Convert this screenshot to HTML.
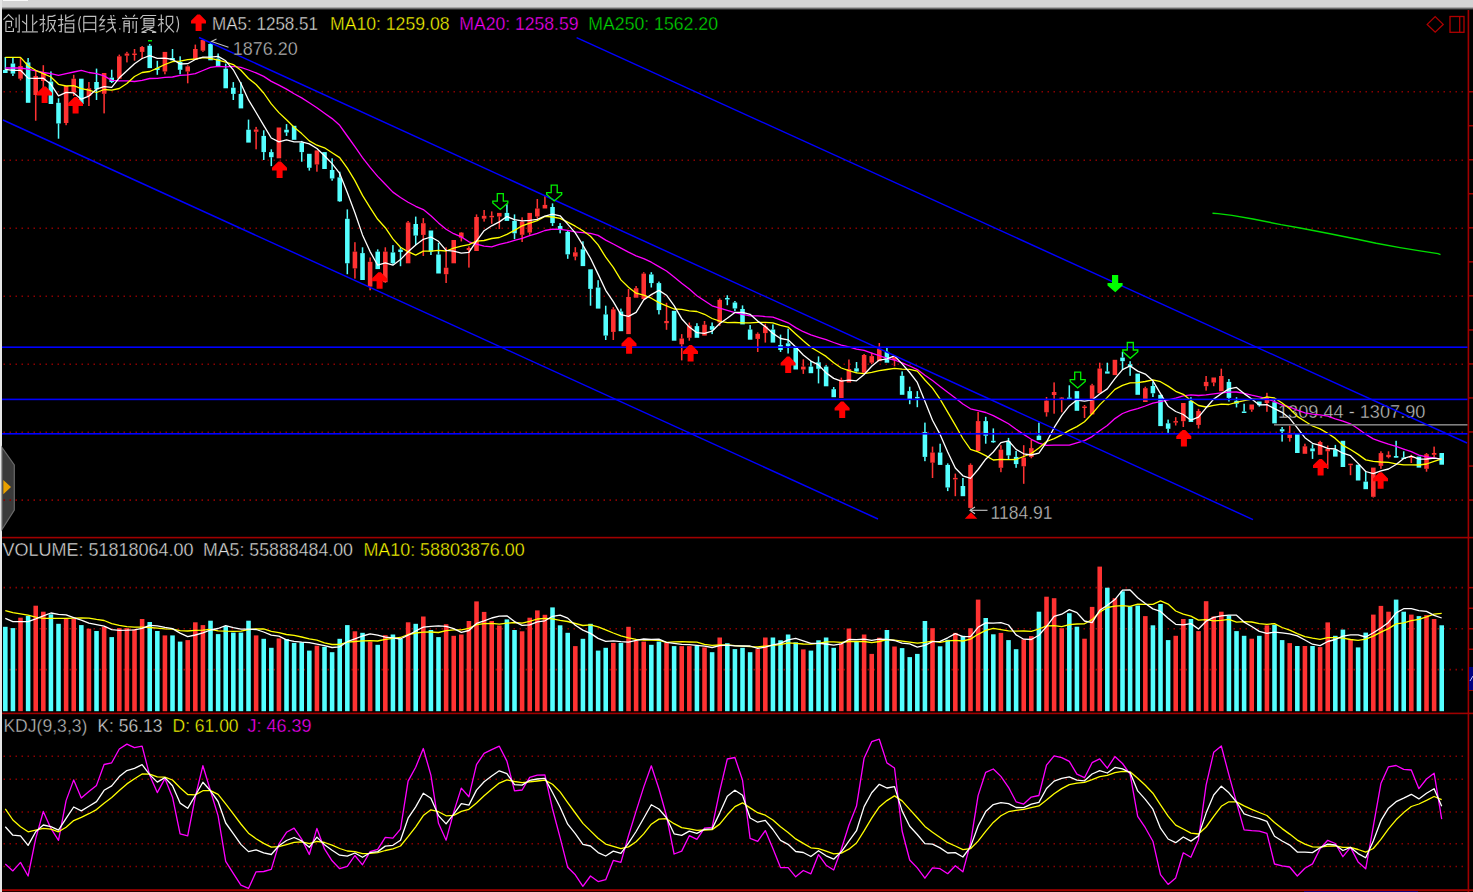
<!DOCTYPE html><html><head><meta charset="utf-8"><style>html,body{margin:0;padding:0;background:#000;width:1473px;height:892px;overflow:hidden}svg{display:block}text{font-family:"Liberation Sans",sans-serif}</style></head><body>
<svg width="1473" height="892" viewBox="0 0 1473 892">
<rect x="0" y="0" width="1473" height="892" fill="#000"/>
<rect x="0" y="0" width="1473" height="10" fill="#d4d4d4"/>
<rect x="0" y="7" width="1473" height="1" fill="#a8a8a8"/>
<rect x="0" y="8" width="1473" height="1" fill="#6a6a6a"/>
<rect x="0" y="9" width="1473" height="1" fill="#2a2a2a"/>
<rect x="3" y="0" width="25" height="1" fill="#fafafa"/>
<rect x="0" y="0" width="2" height="892" fill="#e6e6e6"/>
<polygon points="2,447.5 14.3,465 14.3,510 2,529.5" fill="#3a3a3a" stroke="#6a6a6a" stroke-width="1.2"/>
<polygon points="3.3,480 11,487 3.3,494.3" fill="#e8a000"/>
<line x1="3.50" y1="91.70" x2="1463" y2="91.70" stroke="#8a0000" stroke-width="1.55" stroke-dasharray="1.5 4.5"/>
<line x1="3.50" y1="160.20" x2="1463" y2="160.20" stroke="#8a0000" stroke-width="1.55" stroke-dasharray="1.5 4.5"/>
<line x1="3.50" y1="228.30" x2="1463" y2="228.30" stroke="#8a0000" stroke-width="1.55" stroke-dasharray="1.5 4.5"/>
<line x1="3.50" y1="296.20" x2="1463" y2="296.20" stroke="#8a0000" stroke-width="1.55" stroke-dasharray="1.5 4.5"/>
<line x1="3.50" y1="364.20" x2="1463" y2="364.20" stroke="#8a0000" stroke-width="1.55" stroke-dasharray="1.5 4.5"/>
<line x1="3.50" y1="432.20" x2="1463" y2="432.20" stroke="#8a0000" stroke-width="1.55" stroke-dasharray="1.5 4.5"/>
<line x1="3.50" y1="500.10" x2="1463" y2="500.10" stroke="#8a0000" stroke-width="1.55" stroke-dasharray="1.5 4.5"/>
<line x1="3.50" y1="587.60" x2="1463" y2="587.60" stroke="#8a0000" stroke-width="1.55" stroke-dasharray="1.5 4.5"/>
<line x1="3.50" y1="628.80" x2="1463" y2="628.80" stroke="#8a0000" stroke-width="1.55" stroke-dasharray="1.5 4.5"/>
<line x1="3.50" y1="669.60" x2="1463" y2="669.60" stroke="#8a0000" stroke-width="1.55" stroke-dasharray="1.5 4.5"/>
<line x1="3.50" y1="756.30" x2="1463" y2="756.30" stroke="#8a0000" stroke-width="1.55" stroke-dasharray="1.5 4.5"/>
<line x1="3.50" y1="779.20" x2="1463" y2="779.20" stroke="#8a0000" stroke-width="1.55" stroke-dasharray="1.5 4.5"/>
<line x1="3.50" y1="811.90" x2="1463" y2="811.90" stroke="#8a0000" stroke-width="1.55" stroke-dasharray="1.5 4.5"/>
<line x1="3.50" y1="843.80" x2="1463" y2="843.80" stroke="#8a0000" stroke-width="1.55" stroke-dasharray="1.5 4.5"/>
<line x1="3.50" y1="866.40" x2="1463" y2="866.40" stroke="#8a0000" stroke-width="1.55" stroke-dasharray="1.5 4.5"/>
<g fill="#a00000">
<rect x="1467.6" y="10" width="1.6" height="882"/>
<rect x="2" y="536.8" width="1471" height="1.6"/>
<rect x="2" y="712.6" width="1471" height="1.6"/>
<rect x="2" y="889.2" width="1471" height="2"/>
<rect x="1304" y="891" width="114" height="1" fill="#10007a"/>
<rect x="1469" y="91.0" width="4" height="1.5"/>
<rect x="1469" y="125.0" width="4" height="1.5"/>
<rect x="1469" y="159.0" width="4" height="1.5"/>
<rect x="1469" y="193.0" width="4" height="1.5"/>
<rect x="1469" y="227.1" width="4" height="1.5"/>
<rect x="1469" y="261.1" width="4" height="1.5"/>
<rect x="1469" y="295.1" width="4" height="1.5"/>
<rect x="1469" y="329.2" width="4" height="1.5"/>
<rect x="1469" y="363.2" width="4" height="1.5"/>
<rect x="1469" y="397.2" width="4" height="1.5"/>
<rect x="1469" y="431.2" width="4" height="1.5"/>
<rect x="1469" y="465.3" width="4" height="1.5"/>
<rect x="1469" y="499.3" width="4" height="1.5"/>
<rect x="1469" y="586.9" width="4" height="1.5"/>
<rect x="1469" y="607.5" width="4" height="1.5"/>
<rect x="1469" y="628.0" width="4" height="1.5"/>
<rect x="1469" y="648.5" width="4" height="1.5"/>
<rect x="1469" y="668.9" width="4" height="1.5"/>
<rect x="1469" y="689.4" width="4" height="1.5"/>
</g>
<g>
<rect x="4.56" y="57.0" width="1.52" height="13.0" fill="#54ffff"/>
<rect x="3.04" y="70.0" width="4.56" height="3.0" fill="#54ffff"/>
<rect x="12.16" y="58.0" width="1.52" height="5.5" fill="#54ffff"/>
<rect x="12.16" y="73.6" width="1.52" height="2.4" fill="#54ffff"/>
<rect x="10.64" y="63.5" width="4.56" height="10.1" fill="#54ffff"/>
<rect x="19.76" y="58.0" width="1.52" height="8.0" fill="#ff3232"/>
<rect x="19.76" y="78.7" width="1.52" height="1.7" fill="#ff3232"/>
<rect x="18.24" y="66.0" width="4.56" height="12.7" fill="#ff3232"/>
<rect x="27.36" y="58.0" width="1.52" height="4.4" fill="#54ffff"/>
<rect x="25.84" y="62.4" width="4.56" height="40.4" fill="#54ffff"/>
<rect x="34.96" y="70.3" width="1.52" height="5.7" fill="#ff3232"/>
<rect x="34.96" y="95.0" width="1.52" height="25.7" fill="#ff3232"/>
<rect x="33.44" y="76.0" width="4.56" height="19.0" fill="#ff3232"/>
<rect x="42.56" y="65.2" width="1.52" height="7.3" fill="#ff3232"/>
<rect x="42.56" y="81.0" width="1.52" height="7.0" fill="#ff3232"/>
<rect x="41.04" y="72.5" width="4.56" height="8.5" fill="#ff3232"/>
<rect x="50.16" y="71.4" width="1.52" height="10.1" fill="#54ffff"/>
<rect x="48.64" y="81.5" width="4.56" height="22.5" fill="#54ffff"/>
<rect x="57.76" y="98.3" width="1.52" height="4.5" fill="#54ffff"/>
<rect x="57.76" y="123.5" width="1.52" height="15.2" fill="#54ffff"/>
<rect x="56.24" y="102.8" width="4.56" height="20.7" fill="#54ffff"/>
<rect x="65.36" y="123.0" width="1.52" height="2.2" fill="#ff3232"/>
<rect x="63.84" y="86.0" width="4.56" height="37.0" fill="#ff3232"/>
<rect x="72.96" y="74.8" width="1.52" height="3.9" fill="#ff3232"/>
<rect x="72.96" y="92.7" width="1.52" height="3.3" fill="#ff3232"/>
<rect x="71.44" y="78.7" width="4.56" height="14.0" fill="#ff3232"/>
<rect x="79.04" y="78.7" width="4.56" height="25.3" fill="#54ffff"/>
<rect x="88.16" y="82.0" width="1.52" height="6.2" fill="#ff3232"/>
<rect x="88.16" y="96.0" width="1.52" height="10.0" fill="#ff3232"/>
<rect x="86.64" y="88.2" width="4.56" height="7.8" fill="#ff3232"/>
<rect x="95.76" y="68.6" width="1.52" height="13.4" fill="#54ffff"/>
<rect x="95.76" y="89.3" width="1.52" height="10.7" fill="#54ffff"/>
<rect x="94.24" y="82.0" width="4.56" height="7.3" fill="#54ffff"/>
<rect x="103.36" y="93.8" width="1.52" height="19.6" fill="#ff3232"/>
<rect x="101.84" y="73.0" width="4.56" height="20.8" fill="#ff3232"/>
<rect x="110.96" y="69.7" width="1.52" height="7.9" fill="#54ffff"/>
<rect x="110.96" y="82.0" width="1.52" height="1.0" fill="#54ffff"/>
<rect x="109.44" y="77.6" width="4.56" height="4.4" fill="#54ffff"/>
<rect x="118.56" y="54.6" width="1.52" height="1.7" fill="#ff3232"/>
<rect x="117.04" y="56.3" width="4.56" height="22.4" fill="#ff3232"/>
<rect x="126.16" y="51.8" width="1.52" height="1.7" fill="#ff3232"/>
<rect x="126.16" y="55.7" width="1.52" height="6.7" fill="#ff3232"/>
<rect x="124.64" y="53.5" width="4.56" height="2.2" fill="#ff3232"/>
<rect x="133.76" y="49.0" width="1.52" height="4.5" fill="#ff3232"/>
<rect x="133.76" y="55.0" width="1.52" height="5.7" fill="#ff3232"/>
<rect x="132.24" y="53.5" width="4.56" height="1.5" fill="#ff3232"/>
<rect x="141.36" y="46.0" width="1.52" height="1.0" fill="#ff3232"/>
<rect x="141.36" y="51.9" width="1.52" height="7.1" fill="#ff3232"/>
<rect x="139.84" y="47.0" width="4.56" height="4.9" fill="#ff3232"/>
<rect x="148.96" y="44.0" width="1.52" height="1.7" fill="#54ffff"/>
<rect x="147.44" y="45.7" width="4.56" height="22.4" fill="#54ffff"/>
<rect x="156.56" y="60.8" width="1.52" height="7.2" fill="#54ffff"/>
<rect x="156.56" y="70.0" width="1.52" height="4.8" fill="#54ffff"/>
<rect x="155.04" y="68.0" width="4.56" height="2.0" fill="#54ffff"/>
<rect x="164.16" y="71.5" width="1.52" height="2.8" fill="#ff3232"/>
<rect x="162.64" y="51.9" width="4.56" height="19.6" fill="#ff3232"/>
<rect x="171.76" y="49.0" width="1.52" height="9.0" fill="#54ffff"/>
<rect x="170.24" y="58.0" width="4.56" height="2.3" fill="#54ffff"/>
<rect x="179.36" y="56.3" width="1.52" height="5.7" fill="#54ffff"/>
<rect x="179.36" y="69.8" width="1.52" height="4.5" fill="#54ffff"/>
<rect x="177.84" y="62.0" width="4.56" height="7.8" fill="#54ffff"/>
<rect x="186.96" y="65.3" width="1.52" height="1.1" fill="#ff3232"/>
<rect x="186.96" y="71.5" width="1.52" height="11.8" fill="#ff3232"/>
<rect x="185.44" y="66.4" width="4.56" height="5.1" fill="#ff3232"/>
<rect x="194.56" y="44.6" width="1.52" height="4.4" fill="#ff3232"/>
<rect x="193.04" y="49.0" width="4.56" height="10.7" fill="#ff3232"/>
<rect x="202.16" y="50.7" width="1.52" height="1.2" fill="#ff3232"/>
<rect x="200.64" y="40.0" width="4.56" height="10.7" fill="#ff3232"/>
<rect x="209.76" y="42.0" width="1.52" height="2.0" fill="#54ffff"/>
<rect x="208.24" y="44.0" width="4.56" height="16.3" fill="#54ffff"/>
<rect x="217.36" y="53.5" width="1.52" height="5.1" fill="#54ffff"/>
<rect x="215.84" y="58.6" width="4.56" height="7.8" fill="#54ffff"/>
<rect x="224.96" y="63.6" width="1.52" height="5.1" fill="#54ffff"/>
<rect x="223.44" y="68.7" width="4.56" height="19.6" fill="#54ffff"/>
<rect x="232.56" y="82.1" width="1.52" height="5.6" fill="#54ffff"/>
<rect x="232.56" y="93.9" width="1.52" height="6.1" fill="#54ffff"/>
<rect x="231.04" y="87.7" width="4.56" height="6.2" fill="#54ffff"/>
<rect x="240.16" y="82.1" width="1.52" height="11.8" fill="#54ffff"/>
<rect x="238.64" y="93.9" width="4.56" height="14.5" fill="#54ffff"/>
<rect x="247.76" y="119.6" width="1.52" height="10.1" fill="#54ffff"/>
<rect x="246.24" y="129.7" width="4.56" height="12.9" fill="#54ffff"/>
<rect x="255.36" y="126.9" width="1.52" height="2.6" fill="#ff3232"/>
<rect x="255.36" y="131.8" width="1.52" height="17.5" fill="#ff3232"/>
<rect x="253.84" y="129.5" width="4.56" height="2.3" fill="#ff3232"/>
<rect x="262.96" y="130.3" width="1.52" height="5.6" fill="#54ffff"/>
<rect x="262.96" y="152.1" width="1.52" height="7.9" fill="#54ffff"/>
<rect x="261.44" y="135.9" width="4.56" height="16.2" fill="#54ffff"/>
<rect x="270.56" y="149.3" width="1.52" height="2.8" fill="#54ffff"/>
<rect x="270.56" y="157.2" width="1.52" height="8.9" fill="#54ffff"/>
<rect x="269.04" y="152.1" width="4.56" height="5.1" fill="#54ffff"/>
<rect x="276.64" y="127.5" width="4.56" height="30.8" fill="#ff3232"/>
<rect x="285.76" y="124.1" width="1.52" height="5.6" fill="#54ffff"/>
<rect x="285.76" y="132.5" width="1.52" height="3.4" fill="#54ffff"/>
<rect x="284.24" y="129.7" width="4.56" height="2.8" fill="#54ffff"/>
<rect x="291.84" y="125.8" width="4.56" height="14.0" fill="#54ffff"/>
<rect x="300.96" y="140.9" width="1.52" height="1.7" fill="#54ffff"/>
<rect x="300.96" y="152.1" width="1.52" height="9.6" fill="#54ffff"/>
<rect x="299.44" y="142.6" width="4.56" height="9.5" fill="#54ffff"/>
<rect x="308.56" y="167.8" width="1.52" height="2.8" fill="#54ffff"/>
<rect x="307.04" y="153.8" width="4.56" height="14.0" fill="#54ffff"/>
<rect x="316.16" y="164.5" width="1.52" height="7.2" fill="#ff3232"/>
<rect x="314.64" y="150.4" width="4.56" height="14.1" fill="#ff3232"/>
<rect x="322.24" y="152.1" width="4.56" height="16.9" fill="#54ffff"/>
<rect x="331.36" y="158.3" width="1.52" height="11.7" fill="#54ffff"/>
<rect x="331.36" y="178.5" width="1.52" height="2.2" fill="#54ffff"/>
<rect x="329.84" y="170.0" width="4.56" height="8.5" fill="#54ffff"/>
<rect x="338.96" y="171.7" width="1.52" height="5.7" fill="#54ffff"/>
<rect x="338.96" y="201.3" width="1.52" height="0.7" fill="#54ffff"/>
<rect x="337.44" y="177.4" width="4.56" height="23.9" fill="#54ffff"/>
<rect x="346.56" y="209.4" width="1.52" height="9.4" fill="#54ffff"/>
<rect x="346.56" y="263.3" width="1.52" height="10.9" fill="#54ffff"/>
<rect x="345.04" y="218.8" width="4.56" height="44.5" fill="#54ffff"/>
<rect x="354.16" y="242.2" width="1.52" height="9.4" fill="#ff3232"/>
<rect x="354.16" y="268.4" width="1.52" height="10.2" fill="#ff3232"/>
<rect x="352.64" y="251.6" width="4.56" height="16.8" fill="#ff3232"/>
<rect x="361.76" y="247.3" width="1.52" height="5.8" fill="#54ffff"/>
<rect x="360.24" y="253.1" width="4.56" height="26.9" fill="#54ffff"/>
<rect x="369.36" y="257.5" width="1.52" height="4.3" fill="#ff3232"/>
<rect x="369.36" y="286.6" width="1.52" height="3.7" fill="#ff3232"/>
<rect x="367.84" y="261.8" width="4.56" height="24.8" fill="#ff3232"/>
<rect x="376.96" y="249.4" width="1.52" height="2.2" fill="#54ffff"/>
<rect x="375.44" y="251.6" width="4.56" height="17.5" fill="#54ffff"/>
<rect x="384.56" y="247.3" width="1.52" height="4.3" fill="#ff3232"/>
<rect x="384.56" y="282.2" width="1.52" height="0.8" fill="#ff3232"/>
<rect x="383.04" y="251.6" width="4.56" height="30.6" fill="#ff3232"/>
<rect x="392.16" y="245.1" width="1.52" height="7.3" fill="#54ffff"/>
<rect x="392.16" y="263.3" width="1.52" height="1.5" fill="#54ffff"/>
<rect x="390.64" y="252.4" width="4.56" height="10.9" fill="#54ffff"/>
<rect x="399.76" y="247.3" width="1.52" height="2.2" fill="#54ffff"/>
<rect x="399.76" y="252.0" width="1.52" height="14.2" fill="#54ffff"/>
<rect x="398.24" y="249.5" width="4.56" height="2.5" fill="#54ffff"/>
<rect x="407.36" y="221.0" width="1.52" height="1.5" fill="#ff3232"/>
<rect x="405.84" y="222.5" width="4.56" height="40.8" fill="#ff3232"/>
<rect x="414.96" y="216.6" width="1.52" height="7.4" fill="#54ffff"/>
<rect x="414.96" y="235.6" width="1.52" height="9.5" fill="#54ffff"/>
<rect x="413.44" y="224.0" width="4.56" height="11.6" fill="#54ffff"/>
<rect x="422.56" y="218.1" width="1.52" height="5.1" fill="#ff3232"/>
<rect x="422.56" y="234.9" width="1.52" height="21.1" fill="#ff3232"/>
<rect x="421.04" y="223.2" width="4.56" height="11.7" fill="#ff3232"/>
<rect x="430.16" y="251.6" width="1.52" height="3.4" fill="#54ffff"/>
<rect x="428.64" y="230.5" width="4.56" height="21.1" fill="#54ffff"/>
<rect x="437.76" y="242.9" width="1.52" height="11.6" fill="#54ffff"/>
<rect x="436.24" y="254.5" width="4.56" height="19.0" fill="#54ffff"/>
<rect x="445.36" y="247.3" width="1.52" height="20.4" fill="#ff3232"/>
<rect x="445.36" y="274.2" width="1.52" height="8.8" fill="#ff3232"/>
<rect x="443.84" y="267.7" width="4.56" height="6.5" fill="#ff3232"/>
<rect x="451.44" y="240.0" width="4.56" height="23.3" fill="#ff3232"/>
<rect x="460.56" y="232.0" width="1.52" height="0.6" fill="#ff3232"/>
<rect x="460.56" y="237.7" width="1.52" height="3.7" fill="#ff3232"/>
<rect x="459.04" y="232.6" width="4.56" height="5.1" fill="#ff3232"/>
<rect x="468.16" y="246.4" width="1.52" height="1.6" fill="#ff3232"/>
<rect x="468.16" y="250.0" width="1.52" height="17.6" fill="#ff3232"/>
<rect x="466.64" y="248.0" width="4.56" height="2.0" fill="#ff3232"/>
<rect x="475.76" y="214.4" width="1.52" height="2.6" fill="#ff3232"/>
<rect x="474.24" y="217.0" width="4.56" height="34.0" fill="#ff3232"/>
<rect x="483.36" y="210.0" width="1.52" height="5.8" fill="#ff3232"/>
<rect x="483.36" y="218.7" width="1.52" height="2.9" fill="#ff3232"/>
<rect x="481.84" y="215.8" width="4.56" height="2.9" fill="#ff3232"/>
<rect x="490.96" y="211.4" width="1.52" height="4.4" fill="#ff3232"/>
<rect x="490.96" y="217.3" width="1.52" height="6.5" fill="#ff3232"/>
<rect x="489.44" y="215.8" width="4.56" height="1.5" fill="#ff3232"/>
<rect x="498.56" y="216.5" width="1.52" height="12.5" fill="#ff3232"/>
<rect x="497.04" y="212.9" width="4.56" height="3.6" fill="#ff3232"/>
<rect x="506.16" y="204.2" width="1.52" height="8.7" fill="#54ffff"/>
<rect x="504.64" y="212.9" width="4.56" height="8.0" fill="#54ffff"/>
<rect x="513.76" y="214.4" width="1.52" height="6.5" fill="#54ffff"/>
<rect x="513.76" y="233.3" width="1.52" height="5.8" fill="#54ffff"/>
<rect x="512.24" y="220.9" width="4.56" height="12.4" fill="#54ffff"/>
<rect x="521.36" y="217.3" width="1.52" height="4.3" fill="#ff3232"/>
<rect x="521.36" y="234.8" width="1.52" height="7.2" fill="#ff3232"/>
<rect x="519.84" y="221.6" width="4.56" height="13.2" fill="#ff3232"/>
<rect x="528.96" y="232.6" width="1.52" height="2.2" fill="#ff3232"/>
<rect x="527.44" y="212.9" width="4.56" height="19.7" fill="#ff3232"/>
<rect x="536.56" y="199.0" width="1.52" height="9.5" fill="#ff3232"/>
<rect x="536.56" y="216.5" width="1.52" height="2.2" fill="#ff3232"/>
<rect x="535.04" y="208.5" width="4.56" height="8.0" fill="#ff3232"/>
<rect x="544.16" y="196.1" width="1.52" height="8.8" fill="#ff3232"/>
<rect x="542.64" y="204.9" width="4.56" height="3.6" fill="#ff3232"/>
<rect x="551.76" y="203.4" width="1.52" height="3.6" fill="#54ffff"/>
<rect x="551.76" y="223.1" width="1.52" height="2.9" fill="#54ffff"/>
<rect x="550.24" y="207.0" width="4.56" height="16.1" fill="#54ffff"/>
<rect x="559.36" y="223.1" width="1.52" height="2.9" fill="#54ffff"/>
<rect x="559.36" y="229.7" width="1.52" height="3.6" fill="#54ffff"/>
<rect x="557.84" y="226.0" width="4.56" height="3.7" fill="#54ffff"/>
<rect x="566.96" y="230.4" width="1.52" height="1.5" fill="#54ffff"/>
<rect x="566.96" y="254.4" width="1.52" height="4.4" fill="#54ffff"/>
<rect x="565.44" y="231.9" width="4.56" height="22.5" fill="#54ffff"/>
<rect x="574.56" y="247.2" width="1.52" height="5.1" fill="#ff3232"/>
<rect x="574.56" y="256.6" width="1.52" height="3.7" fill="#ff3232"/>
<rect x="573.04" y="252.3" width="4.56" height="4.3" fill="#ff3232"/>
<rect x="582.16" y="241.3" width="1.52" height="8.0" fill="#54ffff"/>
<rect x="580.64" y="249.3" width="4.56" height="16.8" fill="#54ffff"/>
<rect x="589.76" y="288.9" width="1.52" height="16.8" fill="#54ffff"/>
<rect x="588.24" y="269.3" width="4.56" height="19.6" fill="#54ffff"/>
<rect x="597.36" y="280.2" width="1.52" height="7.3" fill="#54ffff"/>
<rect x="595.84" y="287.5" width="4.56" height="21.1" fill="#54ffff"/>
<rect x="604.96" y="305.7" width="1.52" height="8.7" fill="#54ffff"/>
<rect x="604.96" y="335.6" width="1.52" height="4.4" fill="#54ffff"/>
<rect x="603.44" y="314.4" width="4.56" height="21.2" fill="#54ffff"/>
<rect x="612.56" y="307.2" width="1.52" height="2.1" fill="#ff3232"/>
<rect x="612.56" y="331.9" width="1.52" height="8.1" fill="#ff3232"/>
<rect x="611.04" y="309.3" width="4.56" height="22.6" fill="#ff3232"/>
<rect x="620.16" y="308.6" width="1.52" height="2.9" fill="#54ffff"/>
<rect x="618.64" y="311.5" width="4.56" height="19.7" fill="#54ffff"/>
<rect x="627.76" y="288.9" width="1.52" height="8.1" fill="#ff3232"/>
<rect x="626.24" y="297.0" width="4.56" height="37.1" fill="#ff3232"/>
<rect x="635.36" y="286.0" width="1.52" height="2.2" fill="#ff3232"/>
<rect x="633.84" y="288.2" width="4.56" height="9.5" fill="#ff3232"/>
<rect x="642.96" y="272.2" width="1.52" height="1.4" fill="#ff3232"/>
<rect x="641.44" y="273.6" width="4.56" height="25.5" fill="#ff3232"/>
<rect x="650.56" y="272.2" width="1.52" height="2.2" fill="#54ffff"/>
<rect x="650.56" y="283.1" width="1.52" height="4.4" fill="#54ffff"/>
<rect x="649.04" y="274.4" width="4.56" height="8.7" fill="#54ffff"/>
<rect x="658.16" y="281.6" width="1.52" height="1.5" fill="#54ffff"/>
<rect x="658.16" y="310.1" width="1.52" height="4.3" fill="#54ffff"/>
<rect x="656.64" y="283.1" width="4.56" height="27.0" fill="#54ffff"/>
<rect x="665.76" y="302.8" width="1.52" height="18.2" fill="#ff3232"/>
<rect x="665.76" y="323.2" width="1.52" height="6.6" fill="#ff3232"/>
<rect x="664.24" y="321.0" width="4.56" height="2.2" fill="#ff3232"/>
<rect x="671.84" y="310.8" width="4.56" height="29.9" fill="#54ffff"/>
<rect x="680.96" y="334.1" width="1.52" height="4.4" fill="#ff3232"/>
<rect x="680.96" y="344.3" width="1.52" height="16.1" fill="#ff3232"/>
<rect x="679.44" y="338.5" width="4.56" height="5.8" fill="#ff3232"/>
<rect x="688.56" y="322.5" width="1.52" height="2.9" fill="#ff3232"/>
<rect x="688.56" y="337.8" width="1.52" height="2.9" fill="#ff3232"/>
<rect x="687.04" y="325.4" width="4.56" height="12.4" fill="#ff3232"/>
<rect x="696.16" y="323.2" width="1.52" height="2.9" fill="#54ffff"/>
<rect x="694.64" y="326.1" width="4.56" height="11.7" fill="#54ffff"/>
<rect x="703.76" y="321.0" width="1.52" height="3.7" fill="#ff3232"/>
<rect x="702.24" y="324.7" width="4.56" height="10.9" fill="#ff3232"/>
<rect x="711.36" y="322.5" width="1.52" height="3.6" fill="#54ffff"/>
<rect x="711.36" y="329.8" width="1.52" height="4.3" fill="#54ffff"/>
<rect x="709.84" y="326.1" width="4.56" height="3.7" fill="#54ffff"/>
<rect x="718.96" y="298.4" width="1.52" height="1.5" fill="#ff3232"/>
<rect x="718.96" y="322.5" width="1.52" height="3.3" fill="#ff3232"/>
<rect x="717.44" y="299.9" width="4.56" height="22.6" fill="#ff3232"/>
<rect x="726.56" y="295.3" width="1.52" height="2.7" fill="#54ffff"/>
<rect x="726.56" y="299.5" width="1.52" height="5.7" fill="#54ffff"/>
<rect x="725.04" y="298.0" width="4.56" height="1.5" fill="#54ffff"/>
<rect x="734.16" y="301.0" width="1.52" height="1.5" fill="#54ffff"/>
<rect x="734.16" y="308.5" width="1.52" height="2.7" fill="#54ffff"/>
<rect x="732.64" y="302.5" width="4.56" height="6.0" fill="#54ffff"/>
<rect x="741.76" y="305.4" width="1.52" height="3.6" fill="#54ffff"/>
<rect x="740.24" y="309.0" width="4.56" height="15.4" fill="#54ffff"/>
<rect x="749.36" y="325.0" width="1.52" height="4.5" fill="#54ffff"/>
<rect x="747.84" y="329.5" width="4.56" height="10.2" fill="#54ffff"/>
<rect x="756.96" y="332.4" width="1.52" height="1.4" fill="#ff3232"/>
<rect x="756.96" y="338.9" width="1.52" height="13.1" fill="#ff3232"/>
<rect x="755.44" y="333.8" width="4.56" height="5.1" fill="#ff3232"/>
<rect x="764.56" y="323.6" width="1.52" height="2.9" fill="#ff3232"/>
<rect x="764.56" y="333.1" width="1.52" height="9.5" fill="#ff3232"/>
<rect x="763.04" y="326.5" width="4.56" height="6.6" fill="#ff3232"/>
<rect x="772.16" y="324.4" width="1.52" height="5.1" fill="#54ffff"/>
<rect x="770.64" y="329.5" width="4.56" height="13.1" fill="#54ffff"/>
<rect x="779.76" y="334.6" width="1.52" height="10.4" fill="#54ffff"/>
<rect x="779.76" y="350.0" width="1.52" height="2.0" fill="#54ffff"/>
<rect x="778.24" y="345.0" width="4.56" height="5.0" fill="#54ffff"/>
<rect x="787.36" y="328.7" width="1.52" height="14.6" fill="#54ffff"/>
<rect x="787.36" y="346.2" width="1.52" height="7.3" fill="#54ffff"/>
<rect x="785.84" y="343.3" width="4.56" height="2.9" fill="#54ffff"/>
<rect x="794.96" y="346.2" width="1.52" height="1.5" fill="#54ffff"/>
<rect x="793.44" y="347.7" width="4.56" height="21.8" fill="#54ffff"/>
<rect x="802.56" y="359.3" width="1.52" height="7.3" fill="#ff3232"/>
<rect x="802.56" y="369.5" width="1.52" height="4.4" fill="#ff3232"/>
<rect x="801.04" y="366.6" width="4.56" height="2.9" fill="#ff3232"/>
<rect x="810.16" y="360.8" width="1.52" height="5.8" fill="#54ffff"/>
<rect x="808.64" y="366.6" width="4.56" height="6.6" fill="#54ffff"/>
<rect x="817.76" y="356.4" width="1.52" height="5.9" fill="#54ffff"/>
<rect x="817.76" y="368.8" width="1.52" height="14.6" fill="#54ffff"/>
<rect x="816.24" y="362.3" width="4.56" height="6.5" fill="#54ffff"/>
<rect x="825.36" y="365.2" width="1.52" height="1.4" fill="#54ffff"/>
<rect x="823.84" y="366.6" width="4.56" height="19.7" fill="#54ffff"/>
<rect x="832.96" y="387.0" width="1.52" height="2.2" fill="#54ffff"/>
<rect x="831.44" y="389.2" width="4.56" height="8.0" fill="#54ffff"/>
<rect x="840.56" y="377.6" width="1.52" height="2.2" fill="#ff3232"/>
<rect x="839.04" y="379.8" width="4.56" height="18.2" fill="#ff3232"/>
<rect x="848.16" y="359.5" width="1.52" height="9.5" fill="#ff3232"/>
<rect x="846.64" y="369.0" width="4.56" height="13.5" fill="#ff3232"/>
<rect x="855.76" y="362.0" width="1.52" height="6.3" fill="#54ffff"/>
<rect x="855.76" y="371.5" width="1.52" height="1.4" fill="#54ffff"/>
<rect x="854.24" y="368.3" width="4.56" height="3.2" fill="#54ffff"/>
<rect x="863.36" y="354.0" width="1.52" height="1.0" fill="#ff3232"/>
<rect x="863.36" y="372.7" width="1.52" height="0.2" fill="#ff3232"/>
<rect x="861.84" y="355.0" width="4.56" height="17.7" fill="#ff3232"/>
<rect x="870.96" y="352.5" width="1.52" height="3.6" fill="#ff3232"/>
<rect x="870.96" y="362.7" width="1.52" height="1.5" fill="#ff3232"/>
<rect x="869.44" y="356.1" width="4.56" height="6.6" fill="#ff3232"/>
<rect x="878.56" y="343.0" width="1.52" height="5.8" fill="#ff3232"/>
<rect x="877.04" y="348.8" width="4.56" height="12.4" fill="#ff3232"/>
<rect x="886.16" y="347.4" width="1.52" height="4.4" fill="#54ffff"/>
<rect x="884.64" y="351.8" width="4.56" height="10.9" fill="#54ffff"/>
<rect x="893.76" y="356.1" width="1.52" height="0.8" fill="#ff3232"/>
<rect x="893.76" y="359.8" width="1.52" height="6.5" fill="#ff3232"/>
<rect x="892.24" y="356.9" width="4.56" height="2.9" fill="#ff3232"/>
<rect x="901.36" y="371.4" width="1.52" height="4.4" fill="#54ffff"/>
<rect x="899.84" y="375.8" width="4.56" height="19.0" fill="#54ffff"/>
<rect x="908.96" y="386.7" width="1.52" height="4.4" fill="#54ffff"/>
<rect x="908.96" y="399.1" width="1.52" height="5.1" fill="#54ffff"/>
<rect x="907.44" y="391.1" width="4.56" height="8.0" fill="#54ffff"/>
<rect x="916.56" y="391.1" width="1.52" height="5.8" fill="#54ffff"/>
<rect x="916.56" y="398.5" width="1.52" height="8.7" fill="#54ffff"/>
<rect x="915.04" y="396.9" width="4.56" height="1.5" fill="#54ffff"/>
<rect x="924.16" y="422.6" width="1.52" height="9.5" fill="#54ffff"/>
<rect x="924.16" y="456.9" width="1.52" height="4.3" fill="#54ffff"/>
<rect x="922.64" y="432.1" width="4.56" height="24.8" fill="#54ffff"/>
<rect x="931.76" y="446.6" width="1.52" height="5.9" fill="#ff3232"/>
<rect x="931.76" y="462.7" width="1.52" height="15.3" fill="#ff3232"/>
<rect x="930.24" y="452.5" width="4.56" height="10.2" fill="#ff3232"/>
<rect x="939.36" y="443.7" width="1.52" height="8.8" fill="#54ffff"/>
<rect x="937.84" y="452.5" width="4.56" height="12.4" fill="#54ffff"/>
<rect x="946.96" y="463.4" width="1.52" height="1.5" fill="#54ffff"/>
<rect x="946.96" y="487.5" width="1.52" height="3.6" fill="#54ffff"/>
<rect x="945.44" y="464.9" width="4.56" height="22.6" fill="#54ffff"/>
<rect x="954.56" y="473.6" width="1.52" height="4.3" fill="#ff3232"/>
<rect x="954.56" y="479.5" width="1.52" height="16.7" fill="#ff3232"/>
<rect x="953.04" y="477.9" width="4.56" height="1.5" fill="#ff3232"/>
<rect x="962.16" y="478.0" width="1.52" height="8.0" fill="#54ffff"/>
<rect x="960.64" y="486.0" width="4.56" height="10.2" fill="#54ffff"/>
<rect x="969.76" y="463.4" width="1.52" height="1.5" fill="#ff3232"/>
<rect x="969.76" y="507.9" width="1.52" height="0.7" fill="#ff3232"/>
<rect x="968.24" y="464.9" width="4.56" height="43.0" fill="#ff3232"/>
<rect x="977.36" y="412.0" width="1.52" height="9.1" fill="#ff3232"/>
<rect x="975.84" y="421.1" width="4.56" height="29.9" fill="#ff3232"/>
<rect x="984.96" y="416.8" width="1.52" height="4.3" fill="#54ffff"/>
<rect x="984.96" y="435.7" width="1.52" height="8.0" fill="#54ffff"/>
<rect x="983.44" y="421.1" width="4.56" height="14.6" fill="#54ffff"/>
<rect x="992.56" y="428.4" width="1.52" height="12.4" fill="#54ffff"/>
<rect x="992.56" y="442.3" width="1.52" height="0.7" fill="#54ffff"/>
<rect x="991.04" y="440.8" width="4.56" height="1.5" fill="#54ffff"/>
<rect x="1000.16" y="445.2" width="1.52" height="4.4" fill="#ff3232"/>
<rect x="1000.16" y="467.8" width="1.52" height="4.4" fill="#ff3232"/>
<rect x="998.64" y="449.6" width="4.56" height="18.2" fill="#ff3232"/>
<rect x="1007.76" y="437.9" width="1.52" height="3.6" fill="#54ffff"/>
<rect x="1007.76" y="455.4" width="1.52" height="4.4" fill="#54ffff"/>
<rect x="1006.24" y="441.5" width="4.56" height="13.9" fill="#54ffff"/>
<rect x="1015.36" y="451.0" width="1.52" height="5.9" fill="#54ffff"/>
<rect x="1015.36" y="464.1" width="1.52" height="3.7" fill="#54ffff"/>
<rect x="1013.84" y="456.9" width="4.56" height="7.2" fill="#54ffff"/>
<rect x="1022.96" y="445.2" width="1.52" height="12.4" fill="#ff3232"/>
<rect x="1022.96" y="466.3" width="1.52" height="17.5" fill="#ff3232"/>
<rect x="1021.44" y="457.6" width="4.56" height="8.7" fill="#ff3232"/>
<rect x="1030.56" y="440.0" width="1.52" height="8.1" fill="#ff3232"/>
<rect x="1030.56" y="456.9" width="1.52" height="1.4" fill="#ff3232"/>
<rect x="1029.04" y="448.1" width="4.56" height="8.8" fill="#ff3232"/>
<rect x="1038.16" y="422.6" width="1.52" height="13.1" fill="#54ffff"/>
<rect x="1036.64" y="435.7" width="4.56" height="4.4" fill="#54ffff"/>
<rect x="1045.76" y="397.0" width="1.52" height="3.6" fill="#ff3232"/>
<rect x="1045.76" y="412.3" width="1.52" height="4.3" fill="#ff3232"/>
<rect x="1044.24" y="400.6" width="4.56" height="11.7" fill="#ff3232"/>
<rect x="1053.36" y="382.4" width="1.52" height="9.6" fill="#ff3232"/>
<rect x="1053.36" y="395.0" width="1.52" height="18.7" fill="#ff3232"/>
<rect x="1051.84" y="392.0" width="4.56" height="3.0" fill="#ff3232"/>
<rect x="1060.96" y="397.0" width="1.52" height="0.6" fill="#ff3232"/>
<rect x="1060.96" y="399.2" width="1.52" height="13.1" fill="#ff3232"/>
<rect x="1059.44" y="397.6" width="4.56" height="1.5" fill="#ff3232"/>
<rect x="1068.56" y="385.3" width="1.52" height="12.3" fill="#54ffff"/>
<rect x="1067.04" y="397.6" width="4.56" height="1.5" fill="#54ffff"/>
<rect x="1074.64" y="391.1" width="4.56" height="19.7" fill="#54ffff"/>
<rect x="1083.76" y="405.0" width="1.52" height="1.5" fill="#ff3232"/>
<rect x="1083.76" y="408.0" width="1.52" height="10.0" fill="#ff3232"/>
<rect x="1082.24" y="406.5" width="4.56" height="1.5" fill="#ff3232"/>
<rect x="1091.36" y="383.8" width="1.52" height="1.5" fill="#ff3232"/>
<rect x="1089.84" y="385.3" width="4.56" height="29.1" fill="#ff3232"/>
<rect x="1098.96" y="362.7" width="1.52" height="5.8" fill="#ff3232"/>
<rect x="1097.44" y="368.5" width="4.56" height="24.8" fill="#ff3232"/>
<rect x="1106.56" y="362.7" width="1.52" height="8.7" fill="#54ffff"/>
<rect x="1105.04" y="371.4" width="4.56" height="2.2" fill="#54ffff"/>
<rect x="1112.64" y="359.8" width="4.56" height="15.3" fill="#ff3232"/>
<rect x="1121.76" y="351.8" width="1.52" height="5.8" fill="#54ffff"/>
<rect x="1121.76" y="361.2" width="1.52" height="8.8" fill="#54ffff"/>
<rect x="1120.24" y="357.6" width="4.56" height="3.6" fill="#54ffff"/>
<rect x="1129.36" y="361.2" width="1.52" height="3.0" fill="#54ffff"/>
<rect x="1129.36" y="366.3" width="1.52" height="9.5" fill="#54ffff"/>
<rect x="1127.84" y="364.2" width="4.56" height="2.1" fill="#54ffff"/>
<rect x="1135.44" y="373.6" width="4.56" height="21.2" fill="#54ffff"/>
<rect x="1144.56" y="386.7" width="1.52" height="1.5" fill="#ff3232"/>
<rect x="1143.04" y="388.2" width="4.56" height="13.8" fill="#ff3232"/>
<rect x="1152.16" y="381.6" width="1.52" height="4.4" fill="#54ffff"/>
<rect x="1152.16" y="393.3" width="1.52" height="3.7" fill="#54ffff"/>
<rect x="1150.64" y="386.0" width="4.56" height="7.3" fill="#54ffff"/>
<rect x="1158.24" y="394.8" width="4.56" height="31.3" fill="#54ffff"/>
<rect x="1167.36" y="419.6" width="1.52" height="3.7" fill="#54ffff"/>
<rect x="1167.36" y="428.8" width="1.52" height="4.0" fill="#54ffff"/>
<rect x="1165.84" y="423.3" width="4.56" height="5.5" fill="#54ffff"/>
<rect x="1174.96" y="417.2" width="1.52" height="3.9" fill="#ff3232"/>
<rect x="1174.96" y="422.6" width="1.52" height="2.9" fill="#ff3232"/>
<rect x="1173.44" y="421.1" width="4.56" height="1.5" fill="#ff3232"/>
<rect x="1182.56" y="421.2" width="1.52" height="5.8" fill="#ff3232"/>
<rect x="1181.04" y="403.0" width="4.56" height="18.2" fill="#ff3232"/>
<rect x="1190.16" y="397.2" width="1.52" height="3.6" fill="#54ffff"/>
<rect x="1188.64" y="400.8" width="4.56" height="21.2" fill="#54ffff"/>
<rect x="1197.76" y="408.8" width="1.52" height="2.2" fill="#ff3232"/>
<rect x="1197.76" y="424.9" width="1.52" height="3.6" fill="#ff3232"/>
<rect x="1196.24" y="411.0" width="4.56" height="13.9" fill="#ff3232"/>
<rect x="1205.36" y="376.0" width="1.52" height="5.9" fill="#ff3232"/>
<rect x="1205.36" y="386.2" width="1.52" height="4.4" fill="#ff3232"/>
<rect x="1203.84" y="381.9" width="4.56" height="4.3" fill="#ff3232"/>
<rect x="1212.96" y="382.6" width="1.52" height="3.6" fill="#ff3232"/>
<rect x="1211.44" y="377.5" width="4.56" height="5.1" fill="#ff3232"/>
<rect x="1220.56" y="368.7" width="1.52" height="7.3" fill="#ff3232"/>
<rect x="1219.04" y="376.0" width="4.56" height="15.3" fill="#ff3232"/>
<rect x="1228.16" y="379.0" width="1.52" height="2.9" fill="#54ffff"/>
<rect x="1228.16" y="397.9" width="1.52" height="3.6" fill="#54ffff"/>
<rect x="1226.64" y="381.9" width="4.56" height="16.0" fill="#54ffff"/>
<rect x="1235.76" y="397.2" width="1.52" height="3.6" fill="#54ffff"/>
<rect x="1235.76" y="403.7" width="1.52" height="3.7" fill="#54ffff"/>
<rect x="1234.24" y="400.8" width="4.56" height="2.9" fill="#54ffff"/>
<rect x="1243.36" y="403.7" width="1.52" height="7.8" fill="#54ffff"/>
<rect x="1241.84" y="411.5" width="4.56" height="1.5" fill="#54ffff"/>
<rect x="1250.96" y="409.6" width="1.52" height="2.2" fill="#ff3232"/>
<rect x="1249.44" y="404.5" width="4.56" height="5.1" fill="#ff3232"/>
<rect x="1258.56" y="405.2" width="1.52" height="1.4" fill="#54ffff"/>
<rect x="1257.04" y="401.5" width="4.56" height="3.7" fill="#54ffff"/>
<rect x="1266.16" y="392.8" width="1.52" height="4.4" fill="#ff3232"/>
<rect x="1266.16" y="403.0" width="1.52" height="8.8" fill="#ff3232"/>
<rect x="1264.64" y="397.2" width="4.56" height="5.8" fill="#ff3232"/>
<rect x="1273.76" y="399.4" width="1.52" height="2.9" fill="#54ffff"/>
<rect x="1272.24" y="402.3" width="4.56" height="21.1" fill="#54ffff"/>
<rect x="1281.36" y="427.0" width="1.52" height="2.2" fill="#54ffff"/>
<rect x="1281.36" y="431.4" width="1.52" height="10.2" fill="#54ffff"/>
<rect x="1279.84" y="429.2" width="4.56" height="2.2" fill="#54ffff"/>
<rect x="1288.96" y="425.6" width="1.52" height="8.7" fill="#ff3232"/>
<rect x="1288.96" y="438.0" width="1.52" height="3.6" fill="#ff3232"/>
<rect x="1287.44" y="434.3" width="4.56" height="3.7" fill="#ff3232"/>
<rect x="1296.56" y="433.8" width="1.52" height="0.2" fill="#54ffff"/>
<rect x="1295.04" y="434.0" width="4.56" height="19.0" fill="#54ffff"/>
<rect x="1304.16" y="443.7" width="1.52" height="2.6" fill="#ff3232"/>
<rect x="1302.64" y="446.3" width="4.56" height="7.5" fill="#ff3232"/>
<rect x="1311.76" y="444.3" width="1.52" height="4.1" fill="#54ffff"/>
<rect x="1311.76" y="451.3" width="1.52" height="7.6" fill="#54ffff"/>
<rect x="1310.24" y="448.4" width="4.56" height="2.9" fill="#54ffff"/>
<rect x="1319.36" y="440.8" width="1.52" height="1.2" fill="#ff3232"/>
<rect x="1317.84" y="442.0" width="4.56" height="12.8" fill="#ff3232"/>
<rect x="1326.96" y="445.5" width="1.52" height="3.5" fill="#ff3232"/>
<rect x="1326.96" y="451.3" width="1.52" height="17.5" fill="#ff3232"/>
<rect x="1325.44" y="449.0" width="4.56" height="2.3" fill="#ff3232"/>
<rect x="1334.56" y="444.9" width="1.52" height="4.7" fill="#54ffff"/>
<rect x="1333.04" y="449.6" width="4.56" height="7.0" fill="#54ffff"/>
<rect x="1340.64" y="440.8" width="4.56" height="26.2" fill="#54ffff"/>
<rect x="1349.76" y="463.6" width="1.52" height="0.1" fill="#ff3232"/>
<rect x="1349.76" y="465.3" width="1.52" height="9.9" fill="#ff3232"/>
<rect x="1348.24" y="463.7" width="4.56" height="1.5" fill="#ff3232"/>
<rect x="1355.84" y="464.7" width="4.56" height="15.8" fill="#54ffff"/>
<rect x="1364.96" y="471.1" width="1.52" height="10.5" fill="#54ffff"/>
<rect x="1363.44" y="481.6" width="4.56" height="7.6" fill="#54ffff"/>
<rect x="1372.56" y="496.8" width="1.52" height="0.7" fill="#ff3232"/>
<rect x="1371.04" y="467.6" width="4.56" height="29.2" fill="#ff3232"/>
<rect x="1380.16" y="451.3" width="1.52" height="1.8" fill="#ff3232"/>
<rect x="1380.16" y="465.9" width="1.52" height="2.9" fill="#ff3232"/>
<rect x="1378.64" y="453.1" width="4.56" height="12.8" fill="#ff3232"/>
<rect x="1387.76" y="451.3" width="1.52" height="3.5" fill="#ff3232"/>
<rect x="1387.76" y="457.1" width="1.52" height="1.2" fill="#ff3232"/>
<rect x="1386.24" y="454.8" width="4.56" height="2.3" fill="#ff3232"/>
<rect x="1395.36" y="440.8" width="1.52" height="15.2" fill="#54ffff"/>
<rect x="1395.36" y="457.7" width="1.52" height="0.3" fill="#54ffff"/>
<rect x="1393.84" y="456.0" width="4.56" height="1.7" fill="#54ffff"/>
<rect x="1402.96" y="451.3" width="1.52" height="6.2" fill="#54ffff"/>
<rect x="1401.44" y="457.5" width="4.56" height="1.5" fill="#54ffff"/>
<rect x="1410.56" y="454.8" width="1.52" height="1.6" fill="#ff3232"/>
<rect x="1410.56" y="457.9" width="1.52" height="5.1" fill="#ff3232"/>
<rect x="1409.04" y="456.4" width="4.56" height="1.5" fill="#ff3232"/>
<rect x="1416.64" y="456.6" width="4.56" height="11.0" fill="#54ffff"/>
<rect x="1425.76" y="453.0" width="1.52" height="1.2" fill="#ff3232"/>
<rect x="1425.76" y="468.8" width="1.52" height="2.9" fill="#ff3232"/>
<rect x="1424.24" y="454.2" width="4.56" height="14.6" fill="#ff3232"/>
<rect x="1433.36" y="446.6" width="1.52" height="6.4" fill="#ff3232"/>
<rect x="1433.36" y="454.8" width="1.52" height="2.3" fill="#ff3232"/>
<rect x="1431.84" y="453.0" width="4.56" height="1.8" fill="#ff3232"/>
<rect x="1439.44" y="453.0" width="4.56" height="11.7" fill="#54ffff"/>
</g>
<text x="1278" y="418.2" font-size="18.8" fill="#c0c0c0" stroke="#000" stroke-width="0.4" textLength="147.4" lengthAdjust="spacingAndGlyphs">1309.44 - 1307.90</text>
<polyline points="5.3,68.0 12.9,68.0 20.5,68.0 28.1,69.1 35.7,70.8 43.3,72.5 50.9,73.6 58.5,75.3 66.1,73.6 73.7,72.0 81.3,70.3 88.9,72.5 96.5,73.6 104.1,75.9 111.7,80.4 119.3,80.9 126.9,80.9 134.5,81.5 142.1,80.4 149.7,78.5 157.3,78.4 164.9,77.3 172.5,77.0 180.1,75.4 187.7,74.9 195.3,73.7 202.9,70.5 210.5,67.4 218.1,66.4 225.7,66.9 233.3,66.4 240.9,67.4 248.5,70.0 256.1,72.9 263.7,76.4 271.3,81.4 278.9,85.1 286.5,89.1 294.1,93.7 301.7,97.9 309.3,102.8 316.9,107.7 324.5,113.2 332.1,118.6 339.7,125.3 347.3,136.0 354.9,146.6 362.5,157.6 370.1,167.4 377.7,176.4 385.3,184.3 392.9,192.1 400.5,197.5 408.1,202.2 415.7,206.3 423.3,209.6 430.9,215.8 438.5,222.9 446.1,229.3 453.7,233.7 461.3,236.9 468.9,241.8 476.5,244.2 484.1,246.1 491.7,246.8 499.3,244.3 506.9,242.7 514.5,240.4 522.1,238.4 529.7,235.6 537.3,233.4 544.9,230.5 552.5,229.1 560.1,229.4 567.7,230.4 575.3,231.8 582.9,232.6 590.5,233.3 598.1,235.4 605.7,240.1 613.3,244.0 620.9,248.1 628.5,252.1 636.1,255.8 643.7,258.6 651.3,262.2 658.9,266.6 666.5,271.0 674.1,277.0 681.7,283.2 689.3,289.1 696.9,295.7 704.5,300.8 712.1,305.8 719.7,308.1 727.3,310.4 734.9,312.6 742.5,314.3 750.1,315.9 757.7,315.8 765.3,316.6 772.9,317.2 780.5,319.9 788.1,322.8 795.7,327.6 803.3,331.7 810.9,334.9 818.5,337.3 826.1,339.6 833.7,342.5 841.3,345.2 848.9,346.8 856.5,349.1 864.1,350.4 871.7,353.2 879.3,355.7 886.9,358.4 894.5,360.0 902.1,362.8 909.7,366.0 917.3,369.6 924.9,375.3 932.5,380.5 940.1,386.4 947.7,392.3 955.3,397.9 962.9,404.0 970.5,408.8 978.1,410.6 985.7,412.5 993.3,415.6 1000.9,419.6 1008.5,423.8 1016.1,429.3 1023.7,434.4 1031.3,439.3 1038.9,443.2 1046.5,445.4 1054.1,445.2 1061.7,445.2 1069.3,445.2 1076.9,442.9 1084.5,440.6 1092.1,436.6 1099.7,430.7 1107.3,425.5 1114.9,418.6 1122.5,413.5 1130.1,410.7 1137.7,408.7 1145.3,406.0 1152.9,403.1 1160.5,401.7 1168.1,399.9 1175.7,398.1 1183.3,395.8 1190.9,394.9 1198.5,395.5 1206.1,394.9 1213.7,393.9 1221.3,392.8 1228.9,392.1 1236.5,392.0 1244.1,393.4 1251.7,395.2 1259.3,396.8 1266.9,398.6 1274.5,401.7 1282.1,405.0 1289.7,407.0 1297.3,410.2 1304.9,412.9 1312.5,414.1 1320.1,414.8 1327.7,416.2 1335.3,418.9 1342.9,421.1 1350.5,423.8 1358.1,428.7 1365.7,434.3 1373.3,438.9 1380.9,441.6 1388.5,444.2 1396.1,446.4 1403.7,449.1 1411.3,451.7 1418.9,455.2 1426.5,456.8 1434.1,457.8 1441.7,459.4" fill="none" stroke="#ff00ff" stroke-width="1.3" stroke-linejoin="round"/>
<polyline points="5.3,57.4 12.9,57.4 20.5,57.4 28.1,65.8 35.7,70.3 43.3,73.6 50.9,77.0 58.5,84.3 66.1,86.0 73.7,85.6 81.3,88.7 88.9,90.2 96.5,92.5 104.1,89.5 111.7,90.1 119.3,88.5 126.9,83.5 134.5,76.5 142.1,72.5 149.7,71.5 157.3,68.1 164.9,64.5 172.5,61.6 180.1,61.2 187.7,59.7 195.3,59.0 202.9,57.6 210.5,58.3 218.1,60.2 225.7,62.2 233.3,64.6 240.9,70.3 248.5,78.5 256.1,84.5 263.7,93.0 271.3,103.9 278.9,112.6 286.5,119.8 294.1,127.2 301.7,133.6 309.3,140.9 316.9,145.2 324.5,147.8 332.1,152.7 339.7,157.6 347.3,168.2 354.9,180.6 362.5,195.4 370.1,207.6 377.7,219.3 385.3,227.7 392.9,238.9 400.5,247.2 408.1,251.7 415.7,255.1 423.3,251.1 430.9,251.1 438.5,250.4 446.1,251.0 453.7,248.1 461.3,246.2 468.9,244.7 476.5,241.2 484.1,240.5 491.7,238.5 499.3,237.5 506.9,234.4 514.5,230.4 522.1,225.8 529.7,223.1 537.3,220.7 544.9,216.4 552.5,217.0 560.1,218.4 567.7,222.2 575.3,226.2 582.9,230.7 590.5,236.2 598.1,244.9 605.7,257.2 613.3,267.3 620.9,279.9 628.5,287.3 636.1,293.2 643.7,295.1 651.3,298.2 658.9,302.6 666.5,305.8 674.1,309.0 681.7,309.3 689.3,310.9 696.9,311.5 704.5,314.3 712.1,318.5 719.7,321.1 727.3,322.7 734.9,322.5 742.5,322.9 750.1,322.8 757.7,322.3 765.3,322.4 772.9,322.9 780.5,325.4 788.1,327.1 795.7,334.0 803.3,340.8 810.9,347.2 818.5,351.7 826.1,356.4 833.7,362.7 841.3,368.0 848.9,370.7 856.5,372.8 864.1,373.7 871.7,372.4 879.3,370.6 886.9,369.5 894.5,368.3 902.1,369.2 909.7,369.4 917.3,371.2 924.9,380.0 932.5,388.1 940.1,399.1 947.7,412.2 955.3,425.2 962.9,438.5 970.5,449.3 978.1,451.9 985.7,455.6 993.3,460.0 1000.9,459.3 1008.5,459.6 1016.1,459.5 1023.7,456.5 1031.3,453.5 1038.9,447.9 1046.5,441.5 1054.1,438.6 1061.7,434.8 1069.3,430.4 1076.9,426.6 1084.5,421.7 1092.1,413.8 1099.7,404.9 1107.3,397.4 1114.9,389.4 1122.5,385.4 1130.1,382.9 1137.7,382.6 1145.3,381.5 1152.9,379.8 1160.5,381.7 1168.1,386.1 1175.7,391.3 1183.3,394.3 1190.9,400.5 1198.5,405.5 1206.1,407.0 1213.7,405.3 1221.3,404.1 1228.9,404.5 1236.5,402.3 1244.1,400.7 1251.7,399.1 1259.3,399.3 1266.9,396.8 1274.5,398.0 1282.1,403.0 1289.7,408.7 1297.3,416.4 1304.9,421.2 1312.5,426.0 1320.1,428.9 1327.7,433.3 1335.3,438.4 1342.9,445.4 1350.5,449.5 1358.1,454.4 1365.7,459.9 1373.3,461.4 1380.9,462.0 1388.5,462.4 1396.1,463.9 1403.7,464.9 1411.3,464.9 1418.9,465.0 1426.5,464.0 1434.1,461.3 1441.7,458.8" fill="none" stroke="#ffff00" stroke-width="1.3" stroke-linejoin="round"/>
<polyline points="5.3,69.4 12.9,70.3 20.5,70.3 28.1,78.1 35.7,78.3 43.3,78.2 50.9,84.3 58.5,95.8 66.1,92.4 73.7,92.9 81.3,99.2 88.9,96.1 96.5,89.2 104.1,86.6 111.7,87.3 119.3,77.8 126.9,70.8 134.5,63.7 142.1,58.5 149.7,55.7 157.3,58.4 164.9,58.1 172.5,59.5 180.1,64.0 187.7,63.7 195.3,59.5 202.9,57.1 210.5,57.1 218.1,56.4 225.7,60.8 233.3,69.8 240.9,83.5 248.5,99.9 256.1,112.5 263.7,125.3 271.3,138.0 278.9,141.8 286.5,139.8 294.1,141.8 301.7,141.8 309.3,143.9 316.9,148.5 324.5,155.8 332.1,163.6 339.7,173.4 347.3,192.5 354.9,212.7 362.5,234.9 370.1,251.6 377.7,265.2 385.3,262.8 392.9,265.2 400.5,259.6 408.1,251.7 415.7,245.0 423.3,239.3 430.9,237.0 438.5,241.3 446.1,250.3 453.7,251.2 461.3,253.1 468.9,252.4 476.5,241.1 484.1,230.7 491.7,225.8 499.3,221.9 506.9,216.5 514.5,219.7 522.1,220.9 529.7,220.3 537.3,219.4 544.9,216.2 552.5,214.2 560.1,215.8 567.7,224.1 575.3,232.9 582.9,245.1 590.5,258.3 598.1,274.1 605.7,290.3 613.3,301.7 620.9,314.7 628.5,316.3 636.1,312.3 643.7,299.9 651.3,294.6 658.9,290.4 666.5,295.2 674.1,305.7 681.7,318.7 689.3,327.1 696.9,332.7 704.5,333.4 712.1,331.2 719.7,323.5 727.3,318.3 734.9,312.4 742.5,312.3 750.1,314.3 757.7,321.1 765.3,326.6 772.9,333.4 780.5,338.5 788.1,339.8 795.7,347.0 803.3,355.0 810.9,361.1 818.5,364.9 826.1,372.9 833.7,378.4 841.3,381.1 848.9,380.2 856.5,380.8 864.1,374.5 871.7,366.3 879.3,360.1 886.9,358.8 894.5,355.9 902.1,363.9 909.7,372.5 917.3,382.4 924.9,401.2 932.5,420.3 940.1,434.4 947.7,452.0 955.3,468.0 962.9,475.8 970.5,478.3 978.1,469.5 985.7,459.2 993.3,452.0 1000.9,442.7 1008.5,440.8 1016.1,449.4 1023.7,453.8 1031.3,455.0 1038.9,453.1 1046.5,442.1 1054.1,427.7 1061.7,415.7 1069.3,405.9 1076.9,400.0 1084.5,401.2 1092.1,399.9 1099.7,394.0 1107.3,388.9 1114.9,378.7 1122.5,369.7 1130.1,365.9 1137.7,371.1 1145.3,374.1 1152.9,380.8 1160.5,393.7 1168.1,406.2 1175.7,411.5 1183.3,414.5 1190.9,420.2 1198.5,417.2 1206.1,407.8 1213.7,399.1 1221.3,393.7 1228.9,388.9 1236.5,387.4 1244.1,393.6 1251.7,399.0 1259.3,404.9 1266.9,404.7 1274.5,408.7 1282.1,412.3 1289.7,418.3 1297.3,427.9 1304.9,437.7 1312.5,443.3 1320.1,445.4 1327.7,448.3 1335.3,449.0 1342.9,453.2 1350.5,455.7 1358.1,463.4 1365.7,471.5 1373.3,473.7 1380.9,470.9 1388.5,469.0 1396.1,464.5 1403.7,458.4 1411.3,456.2 1418.9,459.1 1426.5,459.0 1434.1,458.1 1441.7,459.2" fill="none" stroke="#ffffff" stroke-width="1.3" stroke-linejoin="round"/>
<g>
<rect x="3.04" y="626.8" width="4.56" height="84.4" fill="#54ffff"/>
<rect x="10.64" y="628.1" width="4.56" height="83.1" fill="#54ffff"/>
<rect x="18.24" y="617.7" width="4.56" height="93.5" fill="#ff3232"/>
<rect x="25.84" y="615.8" width="4.56" height="95.4" fill="#54ffff"/>
<rect x="33.44" y="605.7" width="4.56" height="105.5" fill="#ff3232"/>
<rect x="41.04" y="611.7" width="4.56" height="99.5" fill="#ff3232"/>
<rect x="48.64" y="614.3" width="4.56" height="96.9" fill="#54ffff"/>
<rect x="56.24" y="623.8" width="4.56" height="87.4" fill="#54ffff"/>
<rect x="63.84" y="619.0" width="4.56" height="92.2" fill="#ff3232"/>
<rect x="71.44" y="619.0" width="4.56" height="92.2" fill="#ff3232"/>
<rect x="79.04" y="625.1" width="4.56" height="86.1" fill="#54ffff"/>
<rect x="86.64" y="628.7" width="4.56" height="82.5" fill="#ff3232"/>
<rect x="94.24" y="631.0" width="4.56" height="80.2" fill="#54ffff"/>
<rect x="101.84" y="626.8" width="4.56" height="84.4" fill="#ff3232"/>
<rect x="109.44" y="637.1" width="4.56" height="74.1" fill="#54ffff"/>
<rect x="117.04" y="628.1" width="4.56" height="83.1" fill="#ff3232"/>
<rect x="124.64" y="628.1" width="4.56" height="83.1" fill="#ff3232"/>
<rect x="132.24" y="629.4" width="4.56" height="81.8" fill="#ff3232"/>
<rect x="139.84" y="619.0" width="4.56" height="92.2" fill="#ff3232"/>
<rect x="147.44" y="622.0" width="4.56" height="89.2" fill="#54ffff"/>
<rect x="155.04" y="631.0" width="4.56" height="80.2" fill="#54ffff"/>
<rect x="162.64" y="635.4" width="4.56" height="75.8" fill="#ff3232"/>
<rect x="170.24" y="635.4" width="4.56" height="75.8" fill="#54ffff"/>
<rect x="177.84" y="641.6" width="4.56" height="69.6" fill="#54ffff"/>
<rect x="185.44" y="640.1" width="4.56" height="71.1" fill="#ff3232"/>
<rect x="193.04" y="622.3" width="4.56" height="88.9" fill="#ff3232"/>
<rect x="200.64" y="625.1" width="4.56" height="86.1" fill="#ff3232"/>
<rect x="208.24" y="620.7" width="4.56" height="90.5" fill="#54ffff"/>
<rect x="215.84" y="634.1" width="4.56" height="77.1" fill="#54ffff"/>
<rect x="223.44" y="626.1" width="4.56" height="85.1" fill="#54ffff"/>
<rect x="231.04" y="632.6" width="4.56" height="78.6" fill="#54ffff"/>
<rect x="238.64" y="632.6" width="4.56" height="78.6" fill="#54ffff"/>
<rect x="246.24" y="620.7" width="4.56" height="90.5" fill="#54ffff"/>
<rect x="253.84" y="635.4" width="4.56" height="75.8" fill="#ff3232"/>
<rect x="261.44" y="638.8" width="4.56" height="72.4" fill="#54ffff"/>
<rect x="269.04" y="647.8" width="4.56" height="63.4" fill="#54ffff"/>
<rect x="276.64" y="638.4" width="4.56" height="72.8" fill="#ff3232"/>
<rect x="284.24" y="639.0" width="4.56" height="72.2" fill="#54ffff"/>
<rect x="291.84" y="642.9" width="4.56" height="68.3" fill="#54ffff"/>
<rect x="299.44" y="642.3" width="4.56" height="68.9" fill="#54ffff"/>
<rect x="307.04" y="650.6" width="4.56" height="60.6" fill="#54ffff"/>
<rect x="314.64" y="645.7" width="4.56" height="65.5" fill="#ff3232"/>
<rect x="322.24" y="646.8" width="4.56" height="64.4" fill="#54ffff"/>
<rect x="329.84" y="652.2" width="4.56" height="59.0" fill="#54ffff"/>
<rect x="337.44" y="638.8" width="4.56" height="72.4" fill="#54ffff"/>
<rect x="345.04" y="625.1" width="4.56" height="86.1" fill="#54ffff"/>
<rect x="352.64" y="631.3" width="4.56" height="79.9" fill="#ff3232"/>
<rect x="360.24" y="632.8" width="4.56" height="78.4" fill="#54ffff"/>
<rect x="367.84" y="641.6" width="4.56" height="69.6" fill="#ff3232"/>
<rect x="375.44" y="644.8" width="4.56" height="66.4" fill="#54ffff"/>
<rect x="383.04" y="635.2" width="4.56" height="76.0" fill="#ff3232"/>
<rect x="390.64" y="634.5" width="4.56" height="76.7" fill="#54ffff"/>
<rect x="398.24" y="639.0" width="4.56" height="72.2" fill="#54ffff"/>
<rect x="405.84" y="622.3" width="4.56" height="88.9" fill="#ff3232"/>
<rect x="413.44" y="623.8" width="4.56" height="87.4" fill="#54ffff"/>
<rect x="421.04" y="616.5" width="4.56" height="94.7" fill="#ff3232"/>
<rect x="428.64" y="630.0" width="4.56" height="81.2" fill="#54ffff"/>
<rect x="436.24" y="637.1" width="4.56" height="74.1" fill="#54ffff"/>
<rect x="443.84" y="624.2" width="4.56" height="87.0" fill="#ff3232"/>
<rect x="451.44" y="635.8" width="4.56" height="75.4" fill="#ff3232"/>
<rect x="459.04" y="634.5" width="4.56" height="76.7" fill="#ff3232"/>
<rect x="466.64" y="621.0" width="4.56" height="90.2" fill="#ff3232"/>
<rect x="474.24" y="601.4" width="4.56" height="109.8" fill="#ff3232"/>
<rect x="481.84" y="611.9" width="4.56" height="99.3" fill="#ff3232"/>
<rect x="489.44" y="621.0" width="4.56" height="90.2" fill="#ff3232"/>
<rect x="497.04" y="625.5" width="4.56" height="85.7" fill="#ff3232"/>
<rect x="504.64" y="619.4" width="4.56" height="91.8" fill="#54ffff"/>
<rect x="512.24" y="630.0" width="4.56" height="81.2" fill="#54ffff"/>
<rect x="519.84" y="631.3" width="4.56" height="79.9" fill="#ff3232"/>
<rect x="527.44" y="617.7" width="4.56" height="93.5" fill="#ff3232"/>
<rect x="535.04" y="610.4" width="4.56" height="100.8" fill="#ff3232"/>
<rect x="542.64" y="614.8" width="4.56" height="96.4" fill="#ff3232"/>
<rect x="550.24" y="607.4" width="4.56" height="103.8" fill="#54ffff"/>
<rect x="557.84" y="625.3" width="4.56" height="85.9" fill="#54ffff"/>
<rect x="565.44" y="632.8" width="4.56" height="78.4" fill="#54ffff"/>
<rect x="573.04" y="646.1" width="4.56" height="65.1" fill="#ff3232"/>
<rect x="580.64" y="638.8" width="4.56" height="72.4" fill="#54ffff"/>
<rect x="588.24" y="623.8" width="4.56" height="87.4" fill="#54ffff"/>
<rect x="595.84" y="650.6" width="4.56" height="60.6" fill="#54ffff"/>
<rect x="603.44" y="647.8" width="4.56" height="63.4" fill="#54ffff"/>
<rect x="611.04" y="642.9" width="4.56" height="68.3" fill="#ff3232"/>
<rect x="618.64" y="642.9" width="4.56" height="68.3" fill="#54ffff"/>
<rect x="626.24" y="626.8" width="4.56" height="84.4" fill="#ff3232"/>
<rect x="633.84" y="641.0" width="4.56" height="70.2" fill="#ff3232"/>
<rect x="641.44" y="641.6" width="4.56" height="69.6" fill="#ff3232"/>
<rect x="649.04" y="644.8" width="4.56" height="66.4" fill="#54ffff"/>
<rect x="656.64" y="641.6" width="4.56" height="69.6" fill="#54ffff"/>
<rect x="664.24" y="642.9" width="4.56" height="68.3" fill="#ff3232"/>
<rect x="671.84" y="646.1" width="4.56" height="65.1" fill="#54ffff"/>
<rect x="679.44" y="646.1" width="4.56" height="65.1" fill="#ff3232"/>
<rect x="687.04" y="646.1" width="4.56" height="65.1" fill="#ff3232"/>
<rect x="694.64" y="645.5" width="4.56" height="65.7" fill="#54ffff"/>
<rect x="702.24" y="647.4" width="4.56" height="63.8" fill="#ff3232"/>
<rect x="709.84" y="652.2" width="4.56" height="59.0" fill="#54ffff"/>
<rect x="717.44" y="637.5" width="4.56" height="73.7" fill="#ff3232"/>
<rect x="725.04" y="643.2" width="4.56" height="68.0" fill="#54ffff"/>
<rect x="732.64" y="649.1" width="4.56" height="62.1" fill="#54ffff"/>
<rect x="740.24" y="647.8" width="4.56" height="63.4" fill="#54ffff"/>
<rect x="747.84" y="652.2" width="4.56" height="59.0" fill="#54ffff"/>
<rect x="755.44" y="649.1" width="4.56" height="62.1" fill="#ff3232"/>
<rect x="763.04" y="637.5" width="4.56" height="73.7" fill="#ff3232"/>
<rect x="770.64" y="637.5" width="4.56" height="73.7" fill="#54ffff"/>
<rect x="778.24" y="640.3" width="4.56" height="70.9" fill="#54ffff"/>
<rect x="785.84" y="634.5" width="4.56" height="76.7" fill="#54ffff"/>
<rect x="793.44" y="642.3" width="4.56" height="68.9" fill="#54ffff"/>
<rect x="801.04" y="649.4" width="4.56" height="61.8" fill="#ff3232"/>
<rect x="808.64" y="650.6" width="4.56" height="60.6" fill="#54ffff"/>
<rect x="816.24" y="640.3" width="4.56" height="70.9" fill="#54ffff"/>
<rect x="823.84" y="637.5" width="4.56" height="73.7" fill="#54ffff"/>
<rect x="831.44" y="647.8" width="4.56" height="63.4" fill="#54ffff"/>
<rect x="839.04" y="643.5" width="4.56" height="67.7" fill="#ff3232"/>
<rect x="846.64" y="628.5" width="4.56" height="82.7" fill="#ff3232"/>
<rect x="854.24" y="641.0" width="4.56" height="70.2" fill="#54ffff"/>
<rect x="861.84" y="634.5" width="4.56" height="76.7" fill="#ff3232"/>
<rect x="869.44" y="653.9" width="4.56" height="57.3" fill="#ff3232"/>
<rect x="877.04" y="637.7" width="4.56" height="73.5" fill="#ff3232"/>
<rect x="884.64" y="630.0" width="4.56" height="81.2" fill="#54ffff"/>
<rect x="892.24" y="646.5" width="4.56" height="64.7" fill="#ff3232"/>
<rect x="899.84" y="648.1" width="4.56" height="63.1" fill="#54ffff"/>
<rect x="907.44" y="657.1" width="4.56" height="54.1" fill="#54ffff"/>
<rect x="915.04" y="653.9" width="4.56" height="57.3" fill="#54ffff"/>
<rect x="922.64" y="621.0" width="4.56" height="90.2" fill="#54ffff"/>
<rect x="930.24" y="628.2" width="4.56" height="83.0" fill="#ff3232"/>
<rect x="937.84" y="646.3" width="4.56" height="64.9" fill="#54ffff"/>
<rect x="945.44" y="639.8" width="4.56" height="71.4" fill="#54ffff"/>
<rect x="953.04" y="632.9" width="4.56" height="78.3" fill="#ff3232"/>
<rect x="960.64" y="635.8" width="4.56" height="75.4" fill="#54ffff"/>
<rect x="968.24" y="628.2" width="4.56" height="83.0" fill="#ff3232"/>
<rect x="975.84" y="599.6" width="4.56" height="111.6" fill="#ff3232"/>
<rect x="983.44" y="618.0" width="4.56" height="93.2" fill="#54ffff"/>
<rect x="991.04" y="634.3" width="4.56" height="76.9" fill="#54ffff"/>
<rect x="998.64" y="632.9" width="4.56" height="78.3" fill="#ff3232"/>
<rect x="1006.24" y="640.1" width="4.56" height="71.1" fill="#54ffff"/>
<rect x="1013.84" y="649.2" width="4.56" height="62.0" fill="#54ffff"/>
<rect x="1021.44" y="639.4" width="4.56" height="71.8" fill="#ff3232"/>
<rect x="1029.04" y="636.1" width="4.56" height="75.1" fill="#ff3232"/>
<rect x="1036.64" y="611.7" width="4.56" height="99.5" fill="#54ffff"/>
<rect x="1044.24" y="596.7" width="4.56" height="114.5" fill="#ff3232"/>
<rect x="1051.84" y="598.2" width="4.56" height="113.0" fill="#ff3232"/>
<rect x="1059.44" y="628.2" width="4.56" height="83.0" fill="#ff3232"/>
<rect x="1067.04" y="613.2" width="4.56" height="98.0" fill="#54ffff"/>
<rect x="1074.64" y="626.7" width="4.56" height="84.5" fill="#54ffff"/>
<rect x="1082.24" y="638.7" width="4.56" height="72.5" fill="#ff3232"/>
<rect x="1089.84" y="606.9" width="4.56" height="104.3" fill="#ff3232"/>
<rect x="1097.44" y="566.6" width="4.56" height="144.6" fill="#ff3232"/>
<rect x="1105.04" y="587.7" width="4.56" height="123.5" fill="#54ffff"/>
<rect x="1112.64" y="598.2" width="4.56" height="113.0" fill="#ff3232"/>
<rect x="1120.24" y="591.3" width="4.56" height="119.9" fill="#54ffff"/>
<rect x="1127.84" y="606.3" width="4.56" height="104.9" fill="#54ffff"/>
<rect x="1135.44" y="605.5" width="4.56" height="105.7" fill="#54ffff"/>
<rect x="1143.04" y="616.1" width="4.56" height="95.1" fill="#ff3232"/>
<rect x="1150.64" y="625.3" width="4.56" height="85.9" fill="#54ffff"/>
<rect x="1158.24" y="604.0" width="4.56" height="107.2" fill="#54ffff"/>
<rect x="1165.84" y="640.1" width="4.56" height="71.1" fill="#54ffff"/>
<rect x="1173.44" y="635.8" width="4.56" height="75.4" fill="#ff3232"/>
<rect x="1181.04" y="619.0" width="4.56" height="92.2" fill="#ff3232"/>
<rect x="1188.64" y="619.0" width="4.56" height="92.2" fill="#54ffff"/>
<rect x="1196.24" y="631.1" width="4.56" height="80.1" fill="#ff3232"/>
<rect x="1203.84" y="601.2" width="4.56" height="110.0" fill="#ff3232"/>
<rect x="1211.44" y="616.5" width="4.56" height="94.7" fill="#ff3232"/>
<rect x="1219.04" y="611.7" width="4.56" height="99.5" fill="#ff3232"/>
<rect x="1226.64" y="615.4" width="4.56" height="95.8" fill="#54ffff"/>
<rect x="1234.24" y="631.1" width="4.56" height="80.1" fill="#54ffff"/>
<rect x="1241.84" y="635.8" width="4.56" height="75.4" fill="#54ffff"/>
<rect x="1249.44" y="638.7" width="4.56" height="72.5" fill="#ff3232"/>
<rect x="1257.04" y="635.8" width="4.56" height="75.4" fill="#54ffff"/>
<rect x="1264.64" y="625.3" width="4.56" height="85.9" fill="#ff3232"/>
<rect x="1272.24" y="624.8" width="4.56" height="86.4" fill="#54ffff"/>
<rect x="1279.84" y="640.1" width="4.56" height="71.1" fill="#54ffff"/>
<rect x="1287.44" y="643.1" width="4.56" height="68.1" fill="#ff3232"/>
<rect x="1295.04" y="646.0" width="4.56" height="65.2" fill="#54ffff"/>
<rect x="1302.64" y="646.0" width="4.56" height="65.2" fill="#ff3232"/>
<rect x="1310.24" y="646.0" width="4.56" height="65.2" fill="#54ffff"/>
<rect x="1317.84" y="647.1" width="4.56" height="64.1" fill="#ff3232"/>
<rect x="1325.44" y="622.4" width="4.56" height="88.8" fill="#ff3232"/>
<rect x="1333.04" y="635.8" width="4.56" height="75.4" fill="#54ffff"/>
<rect x="1340.64" y="629.6" width="4.56" height="81.6" fill="#54ffff"/>
<rect x="1348.24" y="639.4" width="4.56" height="71.8" fill="#ff3232"/>
<rect x="1355.84" y="647.4" width="4.56" height="63.8" fill="#54ffff"/>
<rect x="1363.44" y="632.6" width="4.56" height="78.6" fill="#54ffff"/>
<rect x="1371.04" y="614.6" width="4.56" height="96.6" fill="#ff3232"/>
<rect x="1378.64" y="605.9" width="4.56" height="105.3" fill="#ff3232"/>
<rect x="1386.24" y="611.7" width="4.56" height="99.5" fill="#ff3232"/>
<rect x="1393.84" y="599.6" width="4.56" height="111.6" fill="#54ffff"/>
<rect x="1401.44" y="611.7" width="4.56" height="99.5" fill="#54ffff"/>
<rect x="1409.04" y="614.6" width="4.56" height="96.6" fill="#ff3232"/>
<rect x="1416.64" y="616.1" width="4.56" height="95.1" fill="#54ffff"/>
<rect x="1424.24" y="615.1" width="4.56" height="96.1" fill="#ff3232"/>
<rect x="1431.84" y="619.0" width="4.56" height="92.2" fill="#ff3232"/>
<rect x="1439.44" y="625.3" width="4.56" height="85.9" fill="#54ffff"/>
</g>
<polyline points="5.3,610.6 12.9,612.6 20.5,613.9 28.1,615.2 35.7,617.1 43.3,618.4 50.9,618.4 58.5,618.4 66.1,618.4 73.7,618.2 81.3,618.0 88.9,618.1 96.5,619.4 104.1,620.5 111.7,623.6 119.3,625.3 126.9,626.7 134.5,627.2 142.1,627.2 149.7,627.5 157.3,628.1 164.9,628.8 172.5,629.2 180.1,630.7 187.7,631.0 195.3,630.4 202.9,630.1 210.5,629.3 218.1,630.8 225.7,631.2 233.3,631.3 240.9,631.1 248.5,629.6 256.1,629.0 263.7,628.8 271.3,631.4 278.9,632.7 286.5,634.5 294.1,635.4 301.7,637.0 309.3,638.9 316.9,640.2 324.5,642.8 332.1,644.5 339.7,644.5 347.3,642.2 354.9,641.5 362.5,640.9 370.1,640.7 377.7,641.0 385.3,639.4 392.9,638.3 400.5,637.5 408.1,634.5 415.7,633.0 423.3,632.2 430.9,632.0 438.5,632.5 446.1,630.7 453.7,629.8 461.3,629.8 468.9,628.4 476.5,624.7 484.1,623.6 491.7,623.3 499.3,624.2 506.9,623.2 514.5,622.5 522.1,623.2 529.7,621.4 537.3,619.0 544.9,618.3 552.5,618.9 560.1,620.3 567.7,621.5 575.3,623.5 582.9,625.5 590.5,624.8 598.1,626.8 605.7,629.8 613.3,633.0 620.9,635.8 628.5,637.8 636.1,639.4 643.7,640.2 651.3,640.1 658.9,640.4 666.5,642.3 674.1,641.8 681.7,641.7 689.3,642.0 696.9,642.2 704.5,644.3 712.1,645.4 719.7,645.0 727.3,644.9 734.9,645.6 742.5,646.1 750.1,646.7 757.7,647.0 765.3,646.1 772.9,645.4 780.5,644.6 788.1,642.9 795.7,643.4 803.3,644.0 810.9,644.1 818.5,643.4 826.1,641.9 833.7,641.8 841.3,642.4 848.9,641.5 856.5,641.5 864.1,641.5 871.7,642.7 879.3,641.5 886.9,639.5 894.5,640.1 902.1,641.1 909.7,642.1 917.3,643.1 924.9,642.4 932.5,641.1 940.1,642.3 947.7,640.9 955.3,640.4 962.9,641.0 970.5,639.1 978.1,634.3 985.7,630.4 993.3,628.4 1000.9,629.6 1008.5,630.8 1016.1,631.1 1023.7,631.0 1031.3,631.4 1038.9,629.0 1046.5,625.8 1054.1,625.7 1061.7,626.7 1069.3,624.6 1076.9,624.0 1084.5,623.8 1092.1,619.6 1099.7,612.3 1107.3,607.5 1114.9,606.1 1122.5,605.6 1130.1,606.4 1137.7,604.1 1145.3,604.4 1152.9,604.3 1160.5,600.8 1168.1,604.1 1175.7,611.0 1183.3,614.2 1190.9,616.2 1198.5,620.2 1206.1,619.7 1213.7,620.8 1221.3,620.4 1228.9,619.4 1236.5,622.1 1244.1,621.7 1251.7,622.0 1259.3,623.6 1266.9,624.3 1274.5,623.6 1282.1,627.5 1289.7,630.2 1297.3,633.6 1304.9,636.7 1312.5,638.2 1320.1,639.3 1327.7,637.7 1335.3,637.7 1342.9,638.1 1350.5,639.5 1358.1,640.3 1365.7,639.2 1373.3,636.1 1380.9,632.1 1388.5,628.6 1396.1,623.9 1403.7,622.8 1411.3,620.7 1418.9,619.4 1426.5,616.9 1434.1,614.1 1441.7,613.4" fill="none" stroke="#ffff00" stroke-width="1.3" stroke-linejoin="round"/>
<polyline points="5.3,618.4 12.9,621.6 20.5,621.6 28.1,621.6 35.7,618.8 43.3,615.8 50.9,613.0 58.5,614.3 66.1,614.9 73.7,617.6 81.3,620.2 88.9,623.1 96.5,624.6 104.1,626.1 111.7,629.7 119.3,630.3 126.9,630.2 134.5,629.9 142.1,628.3 149.7,625.3 157.3,625.9 164.9,627.4 172.5,628.6 180.1,633.1 187.7,636.7 195.3,635.0 202.9,632.9 210.5,630.0 218.1,628.5 225.7,625.7 233.3,627.7 240.9,629.2 248.5,629.2 256.1,629.5 263.7,632.0 271.3,635.1 278.9,636.2 286.5,639.9 294.1,641.4 301.7,642.1 309.3,642.6 316.9,644.1 324.5,645.7 332.1,647.5 339.7,646.8 347.3,641.7 354.9,638.8 362.5,636.0 370.1,633.9 377.7,635.1 385.3,637.1 392.9,637.8 400.5,639.0 408.1,635.2 415.7,631.0 423.3,627.2 430.9,626.3 438.5,625.9 446.1,626.3 453.7,628.7 461.3,632.3 468.9,630.5 476.5,623.4 484.1,620.9 491.7,618.0 499.3,616.2 506.9,615.8 514.5,621.6 522.1,625.4 529.7,624.8 537.3,621.8 544.9,620.8 552.5,616.3 560.1,615.1 567.7,618.1 575.3,625.3 582.9,630.1 590.5,633.4 598.1,638.4 605.7,641.4 613.3,640.8 620.9,641.6 628.5,642.2 636.1,640.3 643.7,639.0 651.3,639.4 658.9,639.2 666.5,642.4 674.1,643.4 681.7,644.3 689.3,644.6 696.9,645.3 704.5,646.2 712.1,647.5 719.7,645.7 727.3,645.2 734.9,645.9 742.5,646.0 750.1,646.0 757.7,648.3 765.3,647.1 772.9,644.8 780.5,643.3 788.1,639.8 795.7,638.4 803.3,640.8 810.9,643.4 818.5,643.4 826.1,644.0 833.7,645.1 841.3,643.9 848.9,639.5 856.5,639.7 864.1,639.1 871.7,640.3 879.3,639.1 886.9,639.4 894.5,640.5 902.1,643.2 909.7,643.9 917.3,647.1 924.9,645.3 932.5,641.7 940.1,641.3 947.7,637.8 955.3,633.6 962.9,636.6 970.5,636.6 978.1,627.3 985.7,622.9 993.3,623.2 1000.9,622.6 1008.5,625.0 1016.1,634.9 1023.7,639.2 1031.3,639.5 1038.9,635.3 1046.5,626.6 1054.1,616.4 1061.7,614.2 1069.3,609.6 1076.9,612.6 1084.5,621.0 1092.1,622.7 1099.7,610.4 1107.3,605.3 1114.9,599.6 1122.5,590.1 1130.1,590.0 1137.7,597.8 1145.3,603.5 1152.9,608.9 1160.5,611.4 1168.1,618.2 1175.7,624.3 1183.3,624.8 1190.9,623.6 1198.5,629.0 1206.1,621.2 1213.7,617.4 1221.3,615.9 1228.9,615.2 1236.5,615.2 1244.1,622.1 1251.7,626.5 1259.3,631.4 1266.9,633.3 1274.5,632.1 1282.1,632.9 1289.7,633.8 1297.3,635.9 1304.9,640.0 1312.5,644.2 1320.1,645.6 1327.7,641.5 1335.3,639.5 1342.9,636.2 1350.5,634.9 1358.1,634.9 1365.7,637.0 1373.3,632.7 1380.9,628.0 1388.5,622.4 1396.1,612.9 1403.7,608.7 1411.3,608.7 1418.9,610.7 1426.5,611.4 1434.1,615.3 1441.7,618.0" fill="none" stroke="#ffffff" stroke-width="1.3" stroke-linejoin="round"/>
<polyline points="5.3,864.1 12.9,870.9 20.5,862.4 28.1,876.0 35.7,838.6 43.3,811.5 50.9,828.4 58.5,840.3 66.1,800.6 73.7,779.9 81.3,798.0 88.9,791.6 96.5,785.4 104.1,764.5 111.7,762.8 119.3,749.0 126.9,744.1 134.5,747.6 142.1,746.2 149.7,775.3 157.3,792.6 164.9,778.6 172.5,797.2 180.1,833.9 187.7,835.8 195.3,796.8 202.9,765.7 210.5,790.8 218.1,815.9 225.7,861.3 233.3,873.3 240.9,885.2 248.5,888.4 256.1,871.8 263.7,871.5 271.3,869.4 278.9,844.0 286.5,832.3 294.1,828.1 301.7,839.1 309.3,854.5 316.9,828.4 324.5,848.9 332.1,860.8 339.7,868.7 347.3,866.4 354.9,855.5 362.5,864.8 370.1,851.6 377.7,849.4 385.3,837.3 392.9,838.2 400.5,829.1 408.1,781.1 415.7,767.2 423.3,748.5 430.9,775.1 438.5,823.3 446.1,840.2 453.7,812.1 461.3,788.1 468.9,796.7 476.5,764.6 484.1,753.3 491.7,749.6 499.3,746.2 506.9,761.1 514.5,790.8 522.1,790.0 529.7,777.4 537.3,775.1 544.9,774.9 552.5,809.0 560.1,837.7 567.7,867.3 575.3,874.8 582.9,886.3 590.5,876.0 598.1,881.6 605.7,879.7 613.3,860.4 620.9,862.4 628.5,835.7 636.1,811.1 643.7,787.1 651.3,765.8 658.9,788.7 666.5,815.8 674.1,854.0 681.7,851.1 689.3,835.7 696.9,839.4 704.5,828.2 712.1,827.4 719.7,791.1 727.3,759.0 734.9,757.5 742.5,780.0 750.1,838.3 757.7,841.4 765.3,830.6 772.9,848.5 780.5,867.5 788.1,867.7 795.7,876.8 803.3,870.5 810.9,873.8 818.5,854.6 826.1,865.2 833.7,870.0 841.3,849.2 848.9,825.3 856.5,806.1 864.1,758.2 871.7,741.7 879.3,739.2 886.9,762.9 894.5,768.0 902.1,831.0 909.7,860.0 917.3,867.9 924.9,878.2 932.5,867.9 940.1,868.7 947.7,873.7 955.3,865.8 962.9,871.8 970.5,843.2 978.1,795.6 985.7,772.3 993.3,769.0 1000.9,776.4 1008.5,787.3 1016.1,801.8 1023.7,804.1 1031.3,797.1 1038.9,795.5 1046.5,765.2 1054.1,755.8 1061.7,757.6 1069.3,761.3 1076.9,774.2 1084.5,777.7 1092.1,762.7 1099.7,758.9 1107.3,768.2 1114.9,756.6 1122.5,763.5 1130.1,774.1 1137.7,816.3 1145.3,827.7 1152.9,841.2 1160.5,874.7 1168.1,884.4 1175.7,877.9 1183.3,852.8 1190.9,857.2 1198.5,839.7 1206.1,785.2 1213.7,752.3 1221.3,746.0 1228.9,774.9 1236.5,802.3 1244.1,829.8 1251.7,830.7 1259.3,831.1 1266.9,833.3 1274.5,864.0 1282.1,865.9 1289.7,867.0 1297.3,876.0 1304.9,868.3 1312.5,863.9 1320.1,848.7 1327.7,840.3 1335.3,843.5 1342.9,856.7 1350.5,847.4 1358.1,861.9 1365.7,868.8 1373.3,826.4 1380.9,783.6 1388.5,766.8 1396.1,765.5 1403.7,769.3 1411.3,770.0 1418.9,788.7 1426.5,779.0 1434.1,773.2 1441.7,819.1" fill="none" stroke="#ff00ff" stroke-width="1.3" stroke-linejoin="round"/>
<polyline points="5.3,808.8 12.9,820.0 20.5,826.7 28.1,831.8 35.7,830.1 43.3,828.4 50.9,829.1 58.5,831.8 66.1,827.3 73.7,820.6 81.3,817.3 88.9,813.7 96.5,809.6 104.1,803.2 111.7,797.4 119.3,790.5 126.9,783.9 134.5,778.7 142.1,774.0 149.7,774.2 157.3,776.8 164.9,777.1 172.5,780.0 180.1,787.7 187.7,794.5 195.3,794.9 202.9,790.7 210.5,790.7 218.1,794.3 225.7,803.9 233.3,813.8 240.9,824.0 248.5,833.2 256.1,838.7 263.7,843.4 271.3,847.1 278.9,846.7 286.5,844.6 294.1,842.3 301.7,841.8 309.3,843.6 316.9,841.4 324.5,842.5 332.1,845.1 339.7,848.5 347.3,851.0 354.9,851.7 362.5,853.6 370.1,853.3 377.7,852.7 385.3,850.5 392.9,848.8 400.5,846.0 408.1,836.7 415.7,826.8 423.3,815.6 430.9,809.8 438.5,811.7 446.1,815.8 453.7,815.3 461.3,811.4 468.9,809.3 476.5,802.9 484.1,795.8 491.7,789.2 499.3,783.1 506.9,779.9 514.5,781.5 522.1,782.7 529.7,781.9 537.3,781.0 544.9,780.1 552.5,784.2 560.1,791.9 567.7,802.6 575.3,813.0 582.9,823.4 590.5,830.9 598.1,838.2 605.7,844.1 613.3,846.4 620.9,848.7 628.5,846.9 636.1,841.7 643.7,833.9 651.3,824.2 658.9,819.1 666.5,818.7 674.1,823.7 681.7,827.6 689.3,828.8 696.9,830.3 704.5,830.0 712.1,829.6 719.7,824.1 727.3,814.8 734.9,806.6 742.5,802.8 750.1,807.9 757.7,812.7 765.3,815.2 772.9,820.0 780.5,826.8 788.1,832.6 795.7,838.9 803.3,843.4 810.9,847.8 818.5,848.7 826.1,851.1 833.7,853.8 841.3,853.1 848.9,849.2 856.5,843.0 864.1,830.9 871.7,818.1 879.3,806.9 886.9,800.6 894.5,795.9 902.1,800.9 909.7,809.4 917.3,817.7 924.9,826.4 932.5,832.3 940.1,837.5 947.7,842.7 955.3,846.0 962.9,849.7 970.5,848.7 978.1,841.1 985.7,831.3 993.3,822.4 1000.9,815.8 1008.5,811.7 1016.1,810.3 1023.7,809.4 1031.3,807.7 1038.9,805.9 1046.5,800.1 1054.1,793.8 1061.7,788.6 1069.3,784.7 1076.9,783.2 1084.5,782.4 1092.1,779.6 1099.7,776.6 1107.3,775.4 1114.9,772.7 1122.5,771.4 1130.1,771.8 1137.7,778.2 1145.3,785.2 1152.9,793.2 1160.5,804.9 1168.1,816.2 1175.7,825.1 1183.3,829.0 1190.9,833.1 1198.5,834.0 1206.1,827.0 1213.7,816.4 1221.3,806.3 1228.9,801.8 1236.5,801.9 1244.1,805.9 1251.7,809.4 1259.3,812.5 1266.9,815.5 1274.5,822.4 1282.1,828.6 1289.7,834.1 1297.3,840.1 1304.9,844.1 1312.5,846.9 1320.1,847.2 1327.7,846.2 1335.3,845.8 1342.9,847.4 1350.5,847.4 1358.1,849.5 1365.7,852.2 1373.3,848.5 1380.9,839.3 1388.5,828.9 1396.1,819.8 1403.7,812.6 1411.3,806.5 1418.9,804.0 1426.5,800.4 1434.1,796.5 1441.7,799.7" fill="none" stroke="#ffff00" stroke-width="1.3" stroke-linejoin="round"/>
<polyline points="5.3,826.7 12.9,835.2 20.5,835.9 28.1,845.4 35.7,831.8 43.3,825.0 50.9,826.7 58.5,830.1 66.1,818.4 73.7,807.0 81.3,810.9 88.9,806.3 96.5,801.6 104.1,790.3 111.7,785.9 119.3,776.6 126.9,770.6 134.5,768.3 142.1,764.7 149.7,774.6 157.3,782.1 164.9,777.6 172.5,785.7 180.1,803.1 187.7,808.3 195.3,795.5 202.9,782.3 210.5,790.8 218.1,801.5 225.7,823.0 233.3,833.6 240.9,844.4 248.5,851.6 256.1,849.8 263.7,852.8 271.3,854.5 278.9,845.8 286.5,840.5 294.1,837.5 301.7,840.9 309.3,847.3 316.9,837.1 324.5,844.7 332.1,850.3 339.7,855.2 347.3,856.2 354.9,853.0 362.5,857.3 370.1,852.7 377.7,851.6 385.3,846.1 392.9,845.3 400.5,840.3 408.1,818.2 415.7,806.9 423.3,793.2 430.9,798.2 438.5,815.6 446.1,823.9 453.7,814.2 461.3,803.6 468.9,805.1 476.5,790.1 484.1,781.7 491.7,776.0 499.3,770.8 506.9,773.6 514.5,784.6 522.1,785.1 529.7,780.4 537.3,779.0 544.9,778.4 552.5,792.5 560.1,807.2 567.7,824.2 575.3,833.6 582.9,844.4 590.5,846.0 598.1,852.6 605.7,856.0 613.3,851.1 620.9,853.3 628.5,843.1 636.1,831.5 643.7,818.3 651.3,804.7 658.9,809.0 666.5,817.7 674.1,833.8 681.7,835.4 689.3,831.1 696.9,833.3 704.5,829.4 712.1,828.9 719.7,813.1 727.3,796.2 734.9,790.2 742.5,795.2 750.1,818.0 757.7,822.2 765.3,820.3 772.9,829.5 780.5,840.4 788.1,844.3 795.7,851.5 803.3,852.5 810.9,856.5 818.5,850.7 826.1,855.8 833.7,859.2 841.3,851.8 848.9,841.2 856.5,830.7 864.1,806.6 871.7,792.7 879.3,784.3 886.9,788.0 894.5,786.6 902.1,810.9 909.7,826.2 917.3,834.5 924.9,843.6 932.5,844.2 940.1,847.9 947.7,853.0 955.3,852.6 962.9,857.0 970.5,846.9 978.1,826.0 985.7,811.6 993.3,804.6 1000.9,802.7 1008.5,803.6 1016.1,807.5 1023.7,807.6 1031.3,804.1 1038.9,802.4 1046.5,788.5 1054.1,781.1 1061.7,778.3 1069.3,776.9 1076.9,780.2 1084.5,780.8 1092.1,774.0 1099.7,770.7 1107.3,773.0 1114.9,767.4 1122.5,768.8 1130.1,772.6 1137.7,790.9 1145.3,799.4 1152.9,809.2 1160.5,828.2 1168.1,839.0 1175.7,842.7 1183.3,837.0 1190.9,841.1 1198.5,835.9 1206.1,813.1 1213.7,795.0 1221.3,786.2 1228.9,792.8 1236.5,802.0 1244.1,813.8 1251.7,816.5 1259.3,818.7 1266.9,821.4 1274.5,836.3 1282.1,841.0 1289.7,845.1 1297.3,852.1 1304.9,852.2 1312.5,852.6 1320.1,847.7 1327.7,844.2 1335.3,845.0 1342.9,850.5 1350.5,847.4 1358.1,853.6 1365.7,857.7 1373.3,841.1 1380.9,820.7 1388.5,808.2 1396.1,801.7 1403.7,798.2 1411.3,794.3 1418.9,798.9 1426.5,793.3 1434.1,788.7 1441.7,806.2" fill="none" stroke="#ffffff" stroke-width="1.3" stroke-linejoin="round"/>
<g fill="#0000ff"><rect x="2" y="346.4" width="1465.5" height="1.6"/><rect x="2" y="398.6" width="1465.5" height="1.6"/><rect x="2" y="433.0" width="1465.5" height="1.6"/></g>
<rect x="1274" y="424" width="193.5" height="1.6" fill="#808080"/>
<g stroke="#0000ff" stroke-width="1.45" fill="none">
<line x1="199" y1="37.5" x2="1253" y2="519.6"/>
<line x1="576.6" y1="37.6" x2="1467" y2="443"/>
<line x1="3" y1="120" x2="878" y2="519"/>
</g>
<polyline points="1212.5,213.3 1218,213.6 1232,215.4 1253,219 1281,224.6 1301.4,228.2 1330,233.8 1356,239 1376.2,243.2 1400,247.6 1420,250.9 1438,253.6 1440.5,254.6" fill="none" stroke="#00dc00" stroke-width="1.45"/>
<polygon points="197.3,14.5 199.9,14.5 206.0,20.8 206.0,23.5 201.6,23.5 201.6,31.0 195.6,31.0 195.6,23.5 191.0,23.5 191.0,20.8" fill="#ff0000"/>
<polygon points="43.3,86.5 45.9,86.5 52.0,92.8 52.0,95.5 47.6,95.5 47.6,103.0 41.6,103.0 41.6,95.5 37.0,95.5 37.0,92.8" fill="#ff0000"/>
<polygon points="74.3,97.0 76.9,97.0 83.0,103.3 83.0,106.0 78.6,106.0 78.6,113.5 72.6,113.5 72.6,106.0 68.0,106.0 68.0,103.3" fill="#ff0000"/>
<polygon points="278.3,161.5 280.9,161.5 287.0,167.8 287.0,170.5 282.6,170.5 282.6,178.0 276.6,178.0 276.6,170.5 272.0,170.5 272.0,167.8" fill="#ff0000"/>
<polygon points="378.3,272.3 380.9,272.3 387.0,278.6 387.0,281.3 382.6,281.3 382.6,288.8 376.6,288.8 376.6,281.3 372.0,281.3 372.0,278.6" fill="#ff0000"/>
<polygon points="627.8,337.3 630.4,337.3 636.5,343.6 636.5,346.3 632.1,346.3 632.1,353.8 626.1,353.8 626.1,346.3 621.5,346.3 621.5,343.6" fill="#ff0000"/>
<polygon points="689.3,345.0 691.9,345.0 698.0,351.3 698.0,354.0 693.6,354.0 693.6,361.5 687.6,361.5 687.6,354.0 683.0,354.0 683.0,351.3" fill="#ff0000"/>
<polygon points="786.9,356.6 789.5,356.6 795.6,362.9 795.6,365.6 791.2,365.6 791.2,373.1 785.2,373.1 785.2,365.6 780.6,365.6 780.6,362.9" fill="#ff0000"/>
<polygon points="840.9,401.6 843.5,401.6 849.6,407.9 849.6,410.6 845.2,410.6 845.2,418.1 839.2,418.1 839.2,410.6 834.6,410.6 834.6,407.9" fill="#ff0000"/>
<polygon points="1182.6,430.0 1185.2,430.0 1191.3,436.3 1191.3,439.0 1186.9,439.0 1186.9,446.5 1180.9,446.5 1180.9,439.0 1176.3,439.0 1176.3,436.3" fill="#ff0000"/>
<polygon points="1319.3,458.9 1321.9,458.9 1328.0,465.2 1328.0,467.9 1323.6,467.9 1323.6,475.4 1317.6,475.4 1317.6,467.9 1313.0,467.9 1313.0,465.2" fill="#ff0000"/>
<polygon points="1379.3,472.3 1381.9,472.3 1388.0,478.6 1388.0,481.3 1383.6,481.3 1383.6,488.8 1377.6,488.8 1377.6,481.3 1373.0,481.3 1373.0,478.6" fill="#ff0000"/>
<polygon points="497.3,193.7 503.3,193.7 503.3,201.2 507.8,201.2 507.8,203.0 500.3,209.5 492.8,203.0 492.8,201.2 497.3,201.2" fill="none" stroke="#00f000" stroke-width="1.3" stroke-linejoin="miter"/>
<polygon points="551.2,185.2 557.2,185.2 557.2,192.7 561.7,192.7 561.7,194.5 554.2,201.0 546.7,194.5 546.7,192.7 551.2,192.7" fill="none" stroke="#00f000" stroke-width="1.3" stroke-linejoin="miter"/>
<polygon points="1074.7,372.2 1080.7,372.2 1080.7,379.7 1085.2,379.7 1085.2,381.5 1077.7,388.0 1070.2,381.5 1070.2,379.7 1074.7,379.7" fill="none" stroke="#00f000" stroke-width="1.3" stroke-linejoin="miter"/>
<polygon points="1127.3,342.5 1133.3,342.5 1133.3,350.0 1137.8,350.0 1137.8,351.8 1130.3,358.3 1122.8,351.8 1122.8,350.0 1127.3,350.0" fill="none" stroke="#00f000" stroke-width="1.3" stroke-linejoin="miter"/>
<polygon points="1112,275 1118.2,275 1118.2,283 1122.6,283 1122.6,285.5 1115.3,292.2 1107.5,285.5 1107.5,283 1112,283" fill="#00ff00"/>
<rect x="148" y="40" width="4" height="1.5" fill="#00e000"/>
<g stroke="#c0c0c0" stroke-width="1.1" fill="none"><polyline points="216.5,39 211.5,41.5 228.5,47.3"/></g>
<g stroke="#c8c8c8" stroke-width="1.1" fill="none"><line x1="970" y1="510.3" x2="987.5" y2="510.3"/><polyline points="975,507 970,510.3 975,513.7"/></g>
<polygon points="971,512.3 977.3,518.8 964.8,518.8" fill="#ff0000"/>
<g stroke="#b00000" stroke-width="1.3" fill="none"><polygon points="1435.2,16.6 1443.2,24.4 1435.2,32.2 1427.2,24.4"/><rect x="1450" y="16.5" width="14" height="15.8"/><line x1="1459.7" y1="16.5" x2="1459.7" y2="32.3"/></g>
<rect x="1469" y="667" width="4" height="23" fill="#000080"/>
<line x1="1470" y1="681" x2="1473" y2="676" stroke="#c0c0ff" stroke-width="1"/>
<text x="212.0" y="29.5" font-size="18.8" fill="#e0e0e0" stroke="#000" stroke-width="0.4" textLength="106.0" lengthAdjust="spacingAndGlyphs">MA5: 1258.51</text>
<text x="330.0" y="29.5" font-size="18.8" fill="#ffff00" stroke="#000" stroke-width="0.4" textLength="119.5" lengthAdjust="spacingAndGlyphs">MA10: 1259.08</text>
<text x="459.3" y="29.5" font-size="18.8" fill="#ff00ff" stroke="#000" stroke-width="0.4" textLength="119.2" lengthAdjust="spacingAndGlyphs">MA20: 1258.59</text>
<text x="588.3" y="29.5" font-size="18.8" fill="#00e000" stroke="#000" stroke-width="0.4" textLength="129.7" lengthAdjust="spacingAndGlyphs">MA250: 1562.20</text>
<text x="2.5" y="556.3" font-size="18.8" fill="#e0e0e0" stroke="#000" stroke-width="0.4" textLength="190.9" lengthAdjust="spacingAndGlyphs">VOLUME: 51818064.00</text>
<text x="203.0" y="556.3" font-size="18.8" fill="#e0e0e0" stroke="#000" stroke-width="0.4" textLength="150.0" lengthAdjust="spacingAndGlyphs">MA5: 55888484.00</text>
<text x="363.4" y="556.3" font-size="18.8" fill="#ffff00" stroke="#000" stroke-width="0.4" textLength="161.3" lengthAdjust="spacingAndGlyphs">MA10: 58803876.00</text>
<text x="3.4" y="731.5" font-size="18.8" fill="#c0c0c0" stroke="#000" stroke-width="0.4" textLength="84.0" lengthAdjust="spacingAndGlyphs">KDJ(9,3,3)</text>
<text x="97.4" y="731.5" font-size="18.8" fill="#e0e0e0" stroke="#000" stroke-width="0.4" textLength="65.0" lengthAdjust="spacingAndGlyphs">K: 56.13</text>
<text x="172.5" y="731.5" font-size="18.8" fill="#ffff00" stroke="#000" stroke-width="0.4" textLength="66.1" lengthAdjust="spacingAndGlyphs">D: 61.00</text>
<text x="247.5" y="731.5" font-size="18.8" fill="#ff00ff" stroke="#000" stroke-width="0.4" textLength="63.9" lengthAdjust="spacingAndGlyphs">J: 46.39</text>
<text x="232.8" y="54.7" font-size="18.8" fill="#c0c0c0" stroke="#000" stroke-width="0.4" textLength="64.9" lengthAdjust="spacingAndGlyphs">1876.20</text>
<text x="990.5" y="518.9" font-size="18.8" fill="#c8c8c8" stroke="#000" stroke-width="0.4" textLength="62.0" lengthAdjust="spacingAndGlyphs">1184.91</text>
<g fill="none" stroke="#c0c0c0" stroke-width="1.15"><path d="M3.5,19.6 L8.6,14.6 L13.6,19.6"/><path d="M5.9,21.3 H11.5 V26.4"/><path d="M5.9,21.3 V31.5 H13.4 V28.3"/><path d="M8.1,27.3 H10.5"/><path d="M16.1,17.5 V27.7"/><path d="M19.2,14.6 V31.9 H17.2"/><path d="M26.6,14.6 V31.6"/><path d="M32.7,14.6 V31.6"/><path d="M22.1,21 L26.3,24.4"/><path d="M37.3,21 L33.5,24.6"/><path d="M21.9,31.9 H37.9"/><path d="M39.5,19.6 H45"/><path d="M43.3,14.6 V31.6 H42"/><path d="M42.6,22.8 L39.8,25.7"/><path d="M44.3,23.3 L45.2,24.5"/><path d="M47.8,16.4 H52.4 L55.5,15.1"/><path d="M48.2,16.4 V28 L45.7,31.1"/><path d="M48.2,20.5 H55.3 L53.5,26.5 L49,31.9"/><path d="M50.5,22.8 L55.5,31.9"/><path d="M57.9,19.6 H63.3"/><path d="M61.3,14.6 V31.6 H59.2"/><path d="M58.1,25.9 L63.3,24.1"/><path d="M65.7,14.6 V20.9 H73.9 V19.2"/><path d="M65.9,18.4 L73.6,14.8"/><path d="M65.2,23.7 H73.7 V32.1 H65.2 Z"/><path d="M65.2,27.9 H73.7"/><path d="M80.6,16.3 Q77,24 80.6,32.2"/><path d="M83.8,16.3 H95.7 V32.2"/><path d="M83.8,16.3 V32.2"/><path d="M83.8,22.8 H95.7"/><path d="M83.8,29.5 H95.7"/><path d="M103.3,15 L100,19.8 H104.5 L99.6,25.8 H104.8"/><path d="M99.6,30.3 L104.8,28.8"/><path d="M107.5,19.5 H115.7"/><path d="M107.5,22.8 H115.7"/><path d="M110.8,15 Q112,26 115.2,31.4 V29"/><path d="M113.8,26.2 L106,32.2"/><path d="M113.2,15.2 L114.3,16.4"/><path d="M119.2,28.8 H120.4"/><path d="M122,18.4 H138.1"/><path d="M125.3,15 L126.8,16.8"/><path d="M135,14.6 L133.2,16.8"/><path d="M124,21 V32.3"/><path d="M124,21 H129.3 V32.3 H128"/><path d="M124,23.6 H129.3"/><path d="M124,26 H129.3"/><path d="M133,21 V28.8"/><path d="M136.3,21 V32.3 H134.5"/><path d="M140.3,18.6 L143,15.5 H156.2"/><path d="M144,18.6 H153.8 V25.7 H144 Z"/><path d="M144,20.8 H153.8"/><path d="M144,23.3 H153.8"/><path d="M141.6,29.5 L144.7,27.2 H153.5 L141.6,32.3 H146.5"/><path d="M146.5,28.8 L156.2,32.3 H152"/><path d="M158,19.5 H163.7"/><path d="M161.3,14.6 V32.3"/><path d="M160.6,23.5 L158,26.1"/><path d="M162,22.5 L163.5,24"/><path d="M166.3,16.4 H172.7 V22.6 L164.5,32.3"/><path d="M166.3,16.4 V24.4 L174,32.3"/><path d="M176.7,16.2 Q180.5,24.3 176.7,32.3"/></g>
</svg></body></html>
